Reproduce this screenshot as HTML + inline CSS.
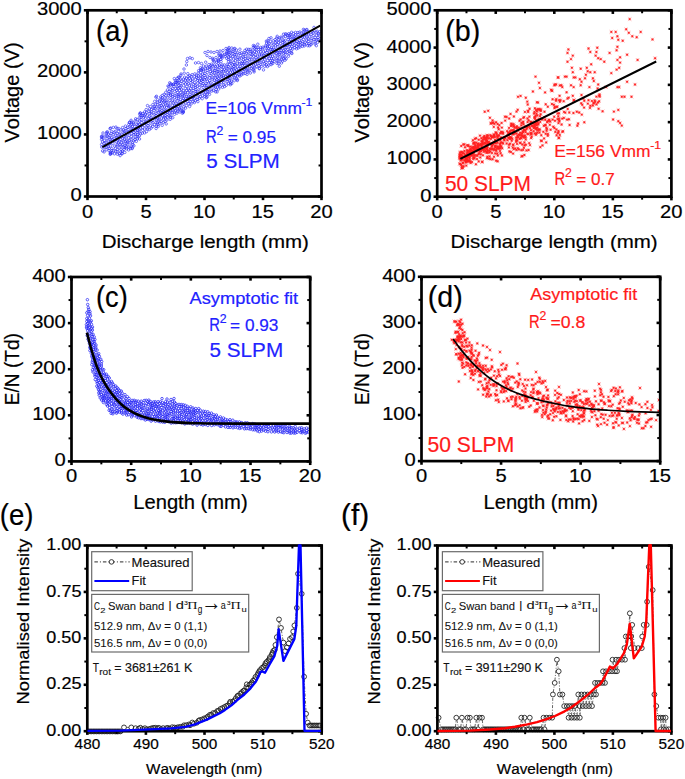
<!DOCTYPE html><html><head><meta charset="utf-8"><style>html,body{margin:0;padding:0;background:#fff;width:685px;height:779px;overflow:hidden}svg{display:block}text{font-kerning:none;white-space:pre;stroke-width:0.2px}</style></head><body><svg width="685" height="779" viewBox="0 0 685 779"><defs><marker id="mA" markerUnits="userSpaceOnUse" markerWidth="8" markerHeight="8" refX="0" refY="0" overflow="visible" viewBox="-4 -4 8 8"><circle r="1.25" fill="none" stroke="#2727f4" stroke-width="0.62"/></marker><marker id="mB" markerUnits="userSpaceOnUse" markerWidth="8" markerHeight="8" refX="0" refY="0" overflow="visible" viewBox="-4 -4 8 8"><circle r="1.65" fill="#ff2020" fill-opacity="0.22"/><path d="M-1.8 -1.8L1.8 1.8M-1.8 1.8L1.8 -1.8" stroke="#ff2020" stroke-width="0.6" stroke-opacity="0.5"/><circle r="0.95" fill="#ff2020"/></marker><marker id="mC" markerUnits="userSpaceOnUse" markerWidth="8" markerHeight="8" refX="0" refY="0" overflow="visible" viewBox="-4 -4 8 8"><circle r="1.25" fill="none" stroke="#2727f4" stroke-width="0.75"/></marker><marker id="mD" markerUnits="userSpaceOnUse" markerWidth="8" markerHeight="8" refX="0" refY="0" overflow="visible" viewBox="-4 -4 8 8"><circle r="1.65" fill="#ff2020" fill-opacity="0.22"/><path d="M-1.8 -1.8L1.8 1.8M-1.8 1.8L1.8 -1.8" stroke="#ff2020" stroke-width="0.6" stroke-opacity="0.5"/><circle r="0.95" fill="#ff2020"/></marker></defs><rect width="100%" height="100%" fill="#fff"/><path d="M219.3 75.9 228.2 79.6 170.3 102.9 154.7 101.4 261.7 66.2 231.0 63.1 182.8 100.4 187.9 80.0 107.0 138.3 203.9 90.4 283.9 50.7 137.8 125.7 158.6 115.9 140.5 128.2 260.7 51.8 133.9 132.4 178.4 98.3 282.8 56.9 130.1 142.9 172.7 94.4 200.3 96.5 286.0 47.8 189.3 90.7 214.7 72.7 223.3 85.0 115.7 151.4 281.5 63.0 117.2 145.9 120.2 136.3 200.7 72.4 217.2 60.2 306.7 43.7 187.6 92.6 205.8 92.9 111.3 133.4 124.3 133.5 263.4 61.9 261.6 55.5 209.6 77.9 249.6 66.6 286.0 45.4 183.5 79.1 180.7 83.5 205.0 73.4 245.3 67.7 192.2 95.4 189.6 85.5 293.4 33.5 202.2 98.7 243.3 68.3 175.6 82.4 281.6 59.5 298.1 34.7 159.0 119.1 308.6 34.0 196.0 91.4 234.7 71.3 273.3 40.8 225.9 76.5 135.0 139.5 308.9 43.7 157.4 104.4 250.3 53.7 188.2 98.4 169.9 100.6 102.5 141.9 183.0 93.0 273.7 58.3 283.5 53.5 215.3 78.1 238.9 68.6 199.8 84.8 212.2 77.2 267.6 50.2 280.1 48.5 212.7 70.1 241.3 74.9 276.9 63.3 230.6 55.8 131.1 146.1 224.8 73.7 280.0 52.4 112.2 139.9 257.5 63.4 159.9 109.7 226.8 68.9 118.6 142.9 124.9 145.2 116.4 137.3 240.2 66.2 267.7 56.2 163.4 119.0 219.6 57.4 239.2 74.7 297.0 41.4 135.4 134.2 124.0 149.3 170.4 108.2 239.5 61.7 147.3 115.2 151.0 121.9 149.4 129.5 130.0 126.1 179.2 109.0 167.5 89.9 114.3 132.4 103.9 147.7 152.7 126.4 144.5 116.0 209.0 92.0 183.9 82.3 213.6 90.4 181.5 89.1 194.3 98.8 211.5 64.2 166.9 102.7 250.9 56.7 268.9 43.3 243.0 56.9 128.6 149.9 259.4 60.5 280.8 40.9 137.9 136.7 133.1 129.1 226.4 67.0 174.8 105.3 233.1 68.9 194.4 102.6 227.2 64.2 145.6 123.0 157.5 123.0 120.8 129.9 141.0 117.2 189.9 94.5 274.2 49.9 301.1 38.6 157.6 99.8 285.3 36.3 259.4 54.9 122.9 144.8 133.2 138.1 113.9 140.8 206.3 66.1 298.2 37.7 316.4 32.6 141.0 125.4 142.3 133.2 183.2 104.0 199.6 94.4 255.2 54.8 265.6 50.6 187.0 82.3 295.6 34.9 250.0 64.3 215.9 84.1 168.7 110.6 145.4 118.2 185.8 102.9 302.3 46.4 227.1 81.8 234.6 77.6 211.2 85.6 179.7 104.3 169.0 115.8 247.9 55.0 123.2 141.9 200.6 78.4 259.1 58.4 218.6 78.3 128.5 132.5 278.0 50.6 235.1 56.9 172.2 112.5 180.8 92.4 255.1 61.2 239.9 53.4 241.7 52.7 126.0 128.6 195.6 93.7 221.1 61.6 172.6 88.5 244.7 61.8 252.0 51.1 163.5 112.2 175.6 84.4 279.4 37.9 166.9 101.0 225.6 79.6 126.1 136.9 268.0 44.9 271.6 47.6 138.2 122.8 249.8 62.3 165.1 115.4 319.0 34.9 222.6 80.8 207.2 76.1 102.9 138.0 256.0 57.7 243.7 54.5 174.8 91.5 318.0 37.5 272.5 60.6 241.2 72.9 136.0 136.8 291.4 52.7 316.6 35.2 141.0 115.4 191.1 99.3 186.4 78.3 153.0 108.0 250.0 70.2 150.5 106.6 216.1 89.5 139.1 132.0 291.7 36.4 281.1 46.1 284.3 41.7 198.6 75.8 203.1 87.5 197.7 91.2 118.5 131.4 292.8 48.9 213.8 82.5 229.7 75.7 218.3 81.0 165.6 117.9 290.7 39.6 229.2 70.0 283.9 45.5 305.2 42.3 304.0 34.5 156.0 122.4 247.3 51.4 294.2 45.2 215.3 66.7 228.2 59.4 155.5 104.5 303.8 32.0 250.4 49.5 265.4 47.0 176.2 103.7 237.6 66.8 242.3 65.2 221.3 82.5 263.5 51.9 172.1 84.8 266.4 65.0 217.6 66.2 190.1 101.7 174.2 101.1 317.9 39.6 143.9 121.3 134.7 126.5 106.0 142.1 204.7 79.7 154.1 110.5 132.6 142.6 150.0 113.3 142.7 130.3 221.2 66.6 287.6 43.4 268.4 48.6 215.4 87.0 182.2 96.9 283.6 58.3 246.7 53.1 105.1 136.0 269.4 58.5 290.0 44.3 146.5 112.4 299.4 40.9 237.9 57.3 177.0 113.1 137.3 132.6 296.1 37.9 112.9 143.3 226.6 53.0 244.0 52.9 190.9 82.7 144.5 125.2 260.8 64.3 318.5 33.5 175.0 95.2 143.6 117.5 247.0 63.0 215.9 75.2 271.9 43.9 248.1 58.3 183.5 85.6 233.8 66.4 262.8 47.2 124.9 131.0 219.9 72.0 111.8 137.8 276.4 58.8 264.0 55.3 196.5 77.2 276.3 53.2 304.8 37.2 170.9 93.1 194.8 73.9 178.5 96.1 186.5 105.6 219.6 65.0 256.5 52.4 236.4 69.8 159.3 106.3 208.9 64.6 133.8 124.2 260.9 62.1 244.8 65.3 195.3 100.8 274.1 61.5 264.6 59.4 221.8 69.4 222.8 56.1 214.9 70.5 244.9 50.4 267.7 60.4 201.1 92.6 277.3 44.7 207.3 72.5 230.5 58.4 197.7 83.1 127.5 141.9 174.5 114.3 172.7 109.9 221.9 78.3 212.9 66.2 218.1 71.4 199.5 81.1 226.6 58.3 287.3 52.4 104.6 140.4 262.6 59.0 290.6 48.2 163.3 122.3 219.1 84.9 105.2 145.2 213.6 85.1 146.2 109.6 304.2 44.5 230.0 67.9 236.5 54.7 194.6 76.6 129.2 135.2 226.1 70.8 199.3 87.4 278.9 60.9 210.4 71.7 172.5 105.4 209.7 80.7 174.6 97.5 293.9 38.1 150.9 117.4 173.3 102.9 128.1 129.4 279.8 59.0 282.9 42.5 131.3 136.4 191.5 86.1 263.7 57.3 148.2 123.4 144.6 129.1 178.8 82.6 225.2 56.3 245.3 58.5 225.1 54.2 259.3 68.2 166.9 120.0 146.9 127.1 158.4 112.4 139.7 121.0 106.7 133.6 168.5 95.2 130.9 139.7 275.7 42.4 311.9 43.1 170.9 115.2 110.7 145.9 167.8 97.9 311.4 40.6 114.4 153.8 277.7 46.8 194.7 82.7 180.7 79.0 315.1 41.9 230.7 83.0 141.2 119.8 168.9 106.7 202.7 95.7 287.5 45.1 120.8 152.0 246.2 70.2 185.8 98.6 122.8 138.6 223.3 75.8 313.2 35.4 272.1 49.5 287.9 49.4 168.9 105.4 282.9 40.2 161.1 121.5 125.9 135.0 153.4 117.9 303.4 39.4 258.0 47.4 170.9 89.4 156.1 115.7 240.5 55.5 275.4 45.7 146.6 131.6 226.3 85.2 208.8 83.0 204.7 96.4 177.7 92.3 189.4 78.2 109.1 148.5 183.4 110.3 186.8 86.5 106.9 136.0 117.6 137.5 264.4 63.5 113.1 134.7 162.3 95.4 114.7 146.1 221.9 74.0 256.7 66.7 228.6 61.4 214.1 61.9 222.1 64.9 223.5 71.0 223.7 82.5 289.9 35.8 120.9 139.4 191.1 104.0 202.9 81.4 141.8 122.7 164.9 97.9 152.9 104.5 162.3 107.1 206.2 89.4 161.0 99.0 296.6 46.3 171.0 97.5 111.8 148.7 209.6 67.0 269.7 52.4 254.6 48.7 278.4 42.7 245.1 73.5 233.9 62.5 184.8 100.3 294.3 41.9 193.4 88.4 209.8 86.4 190.9 92.0 294.1 36.3 309.7 36.9 197.2 86.4 184.2 95.8 175.6 110.9 237.5 76.1 195.2 85.5 305.8 33.0 185.4 92.4 180.0 101.8 248.8 49.4 260.7 47.4 163.9 101.8 210.0 75.4 220.1 86.8 117.5 149.7 128.9 147.1 178.1 106.5 278.7 63.4 268.8 65.2 231.5 81.0 266.0 62.5 300.2 42.4 317.1 31.2 315.1 44.0 204.0 75.6 176.7 98.4 317.6 42.4 258.6 49.3 296.5 48.8 152.8 120.2 174.7 108.3 108.4 134.1 243.5 59.8 148.5 120.7 221.2 76.1 132.3 126.5 108.2 144.2 111.6 131.5 193.0 101.5 168.9 91.6 218.3 63.3 247.5 67.6 179.9 112.0 212.2 79.1 195.6 79.4 155.8 113.5 277.4 57.2 253.2 69.3 185.4 80.0 162.7 100.3 203.4 69.5 288.9 53.7 164.1 94.4 101.6 144.5 315.1 37.5 262.6 48.9 278.8 39.7 300.0 47.0 131.8 133.7 267.4 47.0 167.7 112.2 229.2 64.5 108.2 141.2 300.3 35.8 235.0 52.2 270.4 56.1 214.4 80.0 275.1 39.6 121.0 134.1 211.2 89.2 236.7 73.7 188.6 96.1 178.2 88.4 227.7 75.3 253.7 56.2 243.2 71.8 111.9 150.6 252.8 67.0 158.9 121.0 152.9 122.7 148.5 118.3 230.9 61.4 280.4 43.6 229.8 78.1 232.9 77.8 227.4 72.3 291.8 46.7 253.3 47.3 285.2 54.2 189.6 106.5 117.3 133.5 157.5 102.1 242.0 63.5 232.5 64.9 178.9 94.3 252.5 63.0 229.2 54.6 162.3 97.8 181.2 108.0 135.7 128.9 197.5 97.5 157.2 110.9 117.7 140.0 192.3 81.2 299.9 32.0 123.4 130.0 311.1 34.6 190.8 88.4 189.8 75.7 123.1 132.2 160.2 103.6 306.5 34.7 162.6 115.7 150.6 125.7 116.2 141.8 282.5 61.1 126.7 140.5 279.3 54.2 286.2 58.8 253.1 53.1 235.6 65.1 313.3 32.9 172.7 117.7 237.2 59.3 208.0 89.7 301.8 33.0 133.6 141.1 185.5 83.9 232.9 51.7 151.5 111.9 308.5 31.7 139.6 129.8 110.4 143.2 203.1 83.7 139.5 117.5 271.1 64.6 283.1 37.1 289.1 51.0 161.9 110.4 217.4 87.1 183.3 90.8 247.1 60.3 207.1 94.3 117.3 151.6 179.0 80.2 137.2 119.6 160.3 115.0 251.8 59.5 216.6 62.2 203.6 71.1 187.9 101.4 177.3 86.9 149.4 108.9 127.5 144.4 110.0 139.2 113.7 150.7 236.4 78.7 156.4 119.7 177.2 101.0 206.6 79.0 232.8 56.4 232.9 53.7 185.3 88.4 270.4 41.4 165.2 103.8 269.5 62.5 126.4 148.8 228.9 50.6 198.2 73.1 264.7 66.3 230.4 72.3 308.3 39.0 120.1 144.5 214.6 65.1 109.9 135.8 166.6 107.3 224.2 64.9 302.3 36.9 232.1 67.7 298.7 42.8 206.7 85.7 247.4 65.6 218.1 69.2 253.7 65.1 117.3 144.5 168.8 93.5 285.0 52.2 191.4 76.6 294.7 47.5 285.2 49.3 272.4 56.3 202.9 79.2 240.9 68.8 175.7 88.6 142.7 127.4 148.9 111.3 192.1 74.7 269.4 46.5 135.0 121.0 247.6 71.8 273.5 47.8 142.9 113.7 183.8 106.8 169.8 112.7 237.4 63.4 106.1 147.2 165.8 92.3 288.2 39.4 188.1 76.6 218.6 89.1 184.6 77.2 168.9 86.7 288.5 56.2 257.7 56.1 165.9 110.3 161.8 113.6 215.4 68.8 135.6 130.8 266.6 57.7 109.0 150.7 285.0 60.2 128.6 137.8 127.8 127.5 266.8 52.5 308.4 41.3 188.5 89.1 178.8 85.7 271.0 53.9 207.4 81.3 137.9 130.3 154.2 114.2 154.2 106.9 182.3 95.0 144.6 132.9 173.8 86.4 285.3 40.3 209.8 69.2 147.7 128.9 302.7 41.8 185.6 108.1 239.7 71.1 156.3 126.2 277.0 60.7 235.7 75.8 319.8 31.7 179.7 90.3 193.8 96.7 207.3 70.3 151.4 109.6 120.9 146.0 190.5 80.2 193.2 90.5 123.8 136.6 311.9 38.8 233.6 59.1 161.4 118.2 252.1 54.8 203.2 91.8 139.5 135.8 258.5 51.9 131.9 124.1 287.6 35.4 205.4 68.6 193.8 84.4 231.6 69.8 159.0 108.0 242.6 61.8 199.3 98.2 131.1 127.9 136.9 124.3 188.8 103.7 151.7 114.0 200.2 90.2 237.7 71.5 177.3 109.0 211.2 73.5 274.0 52.4 197.3 99.4 241.3 58.1 154.4 124.7 178.1 104.1 302.6 35.1 255.6 64.1 211.8 91.1 172.1 90.6 254.2 59.3 274.8 55.2 163.5 104.8 243.1 73.8 213.9 75.5 268.7 54.1 165.8 95.6 291.2 42.5 122.6 127.6 125.4 126.1 296.0 43.2 195.9 89.6 183.3 98.4 177.0 80.8 313.9 39.4 201.5 80.0 202.3 85.5 115.4 148.2 172.6 96.7 260.8 49.3 205.8 83.4 172.9 107.7 200.7 75.8 119.1 147.9 126.5 147.0 232.8 74.8 192.6 97.4 130.5 131.0 232.6 72.1 147.8 125.5 196.7 75.4 276.8 38.0 165.0 121.4 193.1 93.1 300.2 45.1 180.3 105.5 185.1 94.1 218.2 74.0 172.4 100.3 251.5 68.3 264.9 53.5 220.0 80.0 272.7 63.5 124.6 139.1 306.7 40.1 207.7 91.4 257.6 61.7 205.0 85.2 311.9 31.5 255.8 47.2 289.7 41.3 146.0 121.3 149.4 116.6 101.8 147.0 229.0 73.9 126.8 132.3 144.6 111.9 276.5 49.4 170.2 119.3 160.1 112.0 270.5 60.6 239.4 63.9 142.9 115.5 161.6 102.0 133.8 134.6 239.1 59.0 181.0 85.9 282.3 48.0 180.0 95.8 306.7 36.9 245.4 56.6 291.1 50.8 188.3 83.8 273.9 44.3 123.2 147.1 320.0 38.7 220.8 59.3 288.0 37.3 304.3 45.9 257.7 59.4 281.0 56.0 222.5 87.3 235.5 60.7 181.7 81.2 230.1 52.9 114.1 138.2 314.0 30.7 213.8 86.9 155.1 108.6 180.8 109.9 197.9 101.6 201.4 70.0 250.6 51.7 218.0 84.6 192.6 79.0 205.4 77.5 130.4 148.5 151.1 128.1 186.7 90.4 228.0 66.5 255.0 67.9 101.6 139.4 170.7 117.2 156.1 107.0 164.1 109.9 202.7 74.1 121.1 149.7 293.2 39.7 137.5 134.7 222.1 58.0 197.7 80.3 271.8 51.3 281.3 50.5 204.7 94.3 277.8 52.3 243.6 63.6 302.3 43.5 228.8 57.1 295.5 32.4 197.2 94.2 115.8 135.2 234.2 80.8 140.4 133.8 170.5 94.9 271.5 58.6 115.2 131.4 167.3 105.3 106.2 149.8 297.9 32.5 289.2 46.1 261.3 54.4 207.3 68.1 125.3 141.4 294.6 40.0 160.7 97.0 187.0 96.7 234.9 54.7 316.3 39.9 227.9 77.0 138.2 127.9 237.9 52.8 216.6 82.0 210.8 67.9 228.6 83.4 223.6 77.3 285.1 57.2 145.4 114.0 119.2 141.1 224.2 69.4 157.4 118.2 278.0 55.1 210.7 82.8 173.6 84.0 112.1 152.9 176.7 90.3 159.8 123.2 174.3 112.1 180.4 99.7 132.9 144.6 275.6 51.3 227.0 55.1 229.7 80.3 167.1 114.4 206.8 87.5 234.3 73.2 177.0 94.9 200.8 82.5 180.2 87.7 210.9 65.7 108.2 147.0 255.9 49.6 227.0 51.4 239.8 76.1 175.9 106.5 150.5 119.7 290.2 34.3 223.3 67.1 129.4 140.3 167.6 117.2 128.8 124.4 224.6 86.6 244.1 69.6 270.6 49.6 195.5 87.4 292.6 44.0 259.0 65.7 121.7 142.5 281.0 37.1 159.9 101.1 216.9 71.9 161.1 105.6 132.1 130.9 190.8 97.2 249.7 59.5 125.1 147.3 155.4 117.8 247.8 70.3 164.4 107.0 234.5 64.5 177.8 111.2 217.0 79.8 133.3 122.9 109.2 137.6 198.1 78.5 165.6 112.9 271.7 62.8 311.1 44.6 221.8 71.8 298.2 44.7 170.7 110.9 137.3 138.8 298.2 48.0 219.1 67.3 265.5 45.7 158.0 124.7 119.2 134.3 217.3 77.2 139.5 124.4 202.2 76.9 235.2 68.3 307.8 45.7 284.4 44.1 282.0 52.1 164.8 100.5 110.5 141.6 254.6 51.6 221.0 55.7 126.6 143.4 290.2 37.5 122.4 151.0 104.1 143.3 212.7 72.2 209.5 94.4 177.6 83.4 219.0 83.0 276.7 41.3 164.3 117.0 218.5 61.0 178.5 77.0 181.0 74.0 184.0 69.0 186.4 65.0 186.8 61.5 187.5 58.5 190.0 57.8 192.3 58.6 195.5 63.0 198.5 62.6 201.5 63.5 203.5 66.0 202.0 68.5 200.5 70.0 168.0 86.0 170.5 85.0 173.5 84.5 176.5 82.5 205.0 52.5 208.0 51.5 211.0 52.0 214.0 52.5 217.0 51.5 220.0 51.0 223.0 50.5 226.0 48.5 229.0 47.5 207.0 55.5 210.0 57.5 213.0 59.5 216.0 57.5 219.0 55.0 218.5 60.0 221.0 56.5 228.0 53.0 231.0 51.0 234.0 49.0 183.3 112.0 266.6 43.1 118.7 128.6 131.1 120.3 129.5 122.3 122.1 153.8 230.3 84.7 120.1 155.6 246.7 49.2 213.3 60.4 102.0 136.1 228.6 48.8 234.8 48.4 139.5 139.0 101.7 137.5 177.2 78.3 253.4 45.5 110.3 153.8 263.5 69.9 291.6 32.3 174.3 78.6 309.6 45.8 101.6 136.6 180.9 75.4 277.2 36.3 117.4 154.2 266.4 41.1 107.5 131.9 103.0 133.0 182.4 113.2 124.8 152.4 156.5 96.3 306.2 30.0 140.1 113.1 316.3 45.7 314.0 27.4 115.9 127.1 222.4 53.9 236.4 50.0 169.7 82.8 131.3 122.1 247.1 74.3 110.0 128.6 106.7 132.2 237.3 80.5 217.1 91.9 206.2 97.7 306.9 29.5 136.3 141.3 268.9 38.5 207.0 97.0 102.6 150.9 183.2 112.3 132.3 147.8 239.9 49.2 122.1 153.3 117.2 128.7 179.3 77.4 271.0 37.8 135.7 118.8 147.5 105.6 158.3 126.4 110.7 128.0 253.9 70.6 279.3 66.2 286.5 34.3 166.2 123.9 156.1 128.5 267.8 40.9 110.8 153.3 291.9 53.5 288.8 33.7 175.3 80.8 162.2 125.3 303.4 29.4 231.8 83.6 155.9 97.1 254.1 71.9 119.3 153.8 140.5 113.1 184.2 73.2 129.5 122.6 231.8 48.0 182.7 111.3 110.3 154.3 283.5 34.2 170.6 83.7 304.3 30.1 187.8 73.7 267.4 66.6 110.5 152.4 259.4 68.7 198.7 70.6 237.4 79.6 219.1 53.8 205.7 62.2 285.4 33.8 257.8 44.2 250.3 73.0 254.6 46.0 113.3 127.4 227.4 49.9 215.6 91.8 133.9 145.8 132.1 148.6 104.1 151.9 139.7 114.4 212.7 58.3 200.5 67.7" fill="none" stroke="none" marker-start="url(#mA)" marker-mid="url(#mA)" marker-end="url(#mA)"/><line x1="102.4" y1="147.2" x2="320.2" y2="25.6" stroke="#000" stroke-width="2.0"/><path d="M470.1 152.5 471.4 154.1 473.5 149.0 468.1 156.1 464.5 150.9 468.3 145.3 471.4 155.6 469.0 161.0 468.5 154.5 467.6 157.1 473.3 143.4 469.6 152.7 461.1 164.8 463.6 166.2 467.3 153.7 472.9 140.2 472.5 147.9 470.3 149.4 464.4 144.4 472.9 154.9 471.4 151.0 460.6 156.2 465.7 161.6 467.4 152.5 470.8 149.3 471.4 151.7 465.8 158.5 472.3 152.0 470.8 153.4 473.9 147.2 473.5 147.2 470.2 161.7 470.3 155.1 469.2 155.0 470.1 146.7 467.5 161.6 460.5 156.0 460.2 154.9 471.6 152.6 462.9 153.2 461.6 152.0 465.0 147.3 467.5 160.4 466.9 158.4 468.5 156.9 467.2 145.3 471.5 154.0 472.0 162.0 471.9 147.1 467.0 161.2 471.4 152.7 468.2 160.7 460.7 156.4 462.5 156.6 473.6 153.1 459.8 155.5 473.3 152.5 459.9 157.0 461.5 155.0 460.3 164.0 467.7 151.1 460.9 157.5 461.7 168.2 464.7 157.6 462.4 167.8 464.0 156.6 470.3 149.7 463.0 162.6 471.5 151.3 466.0 160.3 459.6 163.7 462.5 159.5 472.2 153.5 467.7 155.1 473.9 149.0 468.7 150.9 465.9 155.2 459.8 158.6 461.8 166.1 470.2 151.2 473.2 158.8 460.3 155.4 462.0 159.4 465.0 155.1 462.9 163.0 467.8 151.1 461.0 156.7 468.2 152.1 469.6 157.2 469.5 158.3 468.1 146.1 464.4 160.3 474.0 142.6 460.0 153.1 463.3 144.4 466.3 165.6 460.2 152.1 461.2 146.0 460.8 155.8 471.9 151.5 462.7 167.7 466.0 157.9 473.2 157.1 460.9 157.6 472.0 151.5 469.0 155.4 460.6 160.4 459.8 157.7 467.1 150.3 462.5 152.2 469.7 160.2 462.2 157.0 460.2 157.7 464.4 153.5 470.6 162.9 465.9 162.6 460.8 157.9 461.4 156.2 466.8 156.5 466.6 159.7 488.5 142.0 477.5 149.1 482.1 149.5 487.0 149.0 486.0 148.7 474.1 150.9 480.3 157.4 477.9 146.7 486.6 141.6 474.8 155.2 474.8 150.4 486.9 136.9 482.5 144.3 486.5 141.1 489.8 148.7 475.9 147.6 478.1 143.5 488.1 143.2 487.1 147.3 483.0 155.3 487.3 152.2 477.2 155.7 475.0 138.8 476.1 149.5 481.5 141.1 474.1 157.9 489.2 143.4 481.3 145.1 487.1 146.2 486.8 144.8 474.6 147.5 481.5 149.5 478.7 139.8 480.0 135.6 487.5 150.2 485.5 143.2 474.3 143.0 481.1 151.2 480.2 144.3 478.7 161.4 487.7 143.2 479.5 148.5 479.0 153.6 477.7 150.3 485.7 146.7 475.8 150.5 489.2 152.5 475.2 145.2 477.8 146.0 482.7 141.1 475.9 164.3 475.5 150.9 485.3 139.3 487.1 158.2 483.8 150.0 482.2 142.0 476.5 150.5 477.0 159.0 487.2 140.9 487.2 144.6 483.4 137.1 477.7 144.3 484.3 136.0 485.6 150.9 487.3 156.7 486.4 152.2 478.7 154.0 475.6 146.0 486.6 139.6 482.6 143.3 486.3 145.6 480.9 144.2 478.1 148.0 484.5 142.6 487.0 152.7 474.4 143.6 489.0 138.3 485.2 147.0 487.1 135.3 484.8 137.4 479.1 150.0 480.9 154.3 483.0 139.5 487.7 142.9 474.5 149.4 486.4 138.1 476.1 138.2 489.1 158.6 474.4 158.3 477.8 149.8 484.1 138.9 474.6 155.7 478.7 145.3 482.4 144.5 487.9 135.5 484.2 148.7 476.1 142.7 489.1 150.6 481.7 146.8 486.3 148.1 479.5 151.7 488.8 142.1 484.0 151.8 482.2 161.8 480.2 150.8 482.3 161.9 487.5 137.7 485.8 139.5 477.0 148.0 484.1 143.7 482.6 147.7 481.4 138.2 489.6 156.4 479.8 145.4 477.1 155.2 507.1 131.1 511.7 140.7 508.9 147.4 494.3 142.2 494.0 134.4 492.6 122.9 493.4 142.6 511.2 123.6 502.2 148.2 498.8 148.6 511.8 124.2 500.1 143.4 493.0 137.1 495.0 140.0 498.1 127.5 501.2 132.0 499.1 135.5 499.8 148.4 507.4 140.2 490.5 159.1 492.2 149.0 492.0 153.0 513.6 134.1 498.7 129.2 499.3 125.1 508.9 132.9 504.3 140.3 513.6 130.3 508.0 132.9 501.9 155.5 511.0 152.0 495.3 146.3 498.6 138.9 495.5 146.0 497.2 153.5 513.2 144.8 500.6 153.3 494.8 137.0 513.9 116.5 510.5 113.9 501.6 122.9 493.8 126.9 503.0 133.7 491.1 123.6 494.0 148.9 501.3 146.6 494.8 143.1 507.3 135.6 495.2 142.7 511.4 137.4 509.1 144.7 509.3 138.0 508.8 134.9 493.9 149.9 495.6 132.5 501.8 132.1 491.7 137.2 513.1 153.6 500.0 151.0 511.1 126.0 512.8 147.5 492.3 145.7 498.1 135.8 513.2 144.8 513.5 126.2 497.4 136.0 509.4 151.5 497.6 124.0 501.9 132.8 497.7 146.5 505.0 116.7 494.4 123.7 496.3 150.7 491.0 138.9 509.9 132.5 509.0 127.9 493.0 144.3 501.0 142.5 497.3 136.2 497.9 147.9 491.0 149.0 494.2 135.2 495.4 147.5 495.2 153.4 510.2 137.3 509.9 132.9 500.7 146.3 513.6 130.4 501.9 127.6 513.6 124.2 511.4 130.4 504.1 139.2 506.6 143.5 513.7 149.1 510.8 137.8 490.4 151.5 491.5 143.2 491.4 144.2 492.6 159.2 495.4 140.2 508.2 137.8 497.5 142.7 512.9 130.4 497.8 155.5 499.2 147.0 497.7 161.3 496.4 132.7 505.3 138.1 494.0 136.4 502.7 142.7 495.9 149.9 499.9 148.0 500.2 133.2 500.9 137.4 514.5 127.7 512.7 134.3 496.8 134.1 503.1 143.6 500.1 145.0 496.1 160.7 491.6 146.7 497.0 148.6 500.4 140.4 495.9 143.1 490.9 136.0 511.6 125.4 514.0 126.1 494.0 156.8 510.1 138.9 492.6 143.9 492.3 136.4 510.1 130.9 495.3 146.4 490.4 135.2 493.1 122.6 496.8 141.3 512.3 138.8 514.1 133.6 510.0 143.7 505.0 137.5 503.0 132.4 502.9 137.8 497.5 137.9 505.2 120.6 509.2 118.5 527.5 133.7 533.0 123.2 538.4 124.0 525.3 126.7 531.5 133.4 518.9 149.4 531.1 133.2 532.5 125.8 534.9 108.3 537.3 121.5 539.4 109.1 530.7 121.8 523.2 121.6 521.3 125.4 519.7 138.9 540.0 116.1 516.3 127.4 534.1 113.6 518.8 127.7 529.2 143.1 533.9 128.1 522.1 133.4 522.4 156.0 538.0 124.5 522.9 122.8 524.5 145.3 534.7 117.3 524.0 130.2 537.3 115.5 535.7 124.3 536.1 127.9 516.6 139.4 523.6 136.5 530.0 145.1 536.0 123.9 536.9 102.3 529.6 108.7 520.4 143.0 536.4 133.5 534.6 133.5 527.6 122.1 516.5 149.9 531.1 138.1 524.9 135.5 516.2 137.5 535.5 116.0 522.3 144.5 525.5 132.1 515.2 148.5 520.7 137.9 536.9 111.3 535.8 128.7 515.3 132.8 516.5 111.6 523.5 124.3 517.1 128.3 522.7 136.2 523.2 132.0 534.4 111.9 536.9 129.9 523.9 136.8 526.9 127.5 537.7 122.2 538.1 109.6 523.4 117.8 529.4 116.6 524.4 155.0 517.7 109.8 522.8 131.5 521.0 138.2 528.1 134.1 517.1 140.6 520.1 132.8 528.6 150.0 519.7 135.0 523.9 147.8 538.7 119.2 531.6 136.7 531.0 130.2 523.1 149.9 519.5 120.8 535.5 122.4 528.1 110.8 521.6 156.4 518.7 134.6 538.0 102.5 516.2 141.7 530.0 128.2 520.2 142.8 525.9 144.8 520.6 119.4 534.6 117.5 527.7 104.5 527.6 126.9 517.9 148.2 536.5 120.1 532.2 123.0 536.0 110.0 520.7 128.5 531.1 122.5 516.5 133.5 524.4 142.4 534.4 125.2 535.9 134.8 537.8 109.2 517.7 130.5 530.5 133.1 525.7 137.3 536.6 125.1 529.3 126.3 524.9 111.9 534.2 127.6 526.5 150.4 526.7 129.0 517.0 143.9 521.4 123.0 518.0 137.1 534.9 124.5 531.4 122.2 535.0 118.9 521.8 133.5 533.7 131.1 539.5 132.5 524.1 117.1 534.8 126.5 523.8 137.6 517.6 135.8 527.5 118.4 538.5 129.9 528.1 111.9 521.2 135.1 531.0 134.5 539.2 129.4 525.7 139.4 536.5 113.7 537.4 132.4 521.3 150.1 516.9 126.3 528.5 120.3 539.8 129.6 533.5 126.4 516.3 140.6 525.4 130.2 527.3 101.6 535.4 122.7 523.9 129.5 537.4 127.8 531.4 125.9 518.0 137.4 521.5 135.9 559.3 121.3 555.0 120.8 542.4 119.6 541.0 140.7 557.7 133.1 549.0 119.7 557.3 106.7 540.8 110.8 552.6 119.6 559.1 137.8 540.3 147.1 546.6 130.7 551.9 104.0 558.6 138.0 546.4 127.9 546.2 142.4 547.8 135.7 540.2 110.2 540.7 109.5 557.5 113.4 558.5 131.0 559.8 101.8 540.6 114.2 550.6 129.7 555.3 131.9 558.3 116.3 545.2 119.7 553.3 126.7 556.6 135.3 554.4 128.0 549.2 120.5 554.8 106.9 551.1 89.8 556.2 99.2 547.8 121.2 541.3 135.3 542.5 145.4 559.8 134.9 541.8 118.7 546.9 128.9 547.9 134.0 547.8 106.7 545.5 125.3 554.2 116.7 556.4 106.9 559.0 113.3 550.2 121.5 544.1 138.4 549.8 124.8 559.1 100.1 543.3 131.8 544.5 111.7 559.8 85.4 547.1 122.0 545.4 125.0 559.0 118.8 558.5 123.1 557.6 119.1 559.0 120.1 544.4 117.3 543.8 125.7 545.7 133.8 558.5 132.6 541.8 140.9 556.0 100.8 556.4 129.4 540.2 121.9 554.5 108.1 553.9 104.8 545.7 104.3 598.6 108.8 590.4 105.8 591.9 100.9 583.4 98.6 581.2 103.3 584.1 107.6 568.7 97.6 573.4 113.0 567.7 108.9 577.4 125.7 578.1 123.5 573.7 100.4 584.3 122.3 587.8 103.6 597.6 88.4 563.7 101.2 581.8 114.6 569.3 112.5 595.1 101.9 599.7 96.5 563.0 131.3 594.8 100.5 564.0 111.9 562.2 118.6 590.0 107.9 569.6 125.0 576.8 111.7 593.8 103.2 599.2 95.8 596.5 104.4 582.3 104.8 599.5 94.5 597.9 102.5 593.5 102.9 561.6 124.5 584.3 100.8 565.3 112.6 563.9 117.9 579.2 112.5 562.4 131.7 596.4 96.6 574.1 100.0 568.9 119.3 599.1 101.2 567.0 119.6 629.7 19.1 611.3 31.9 615.7 31.9 612.2 38.0 617.4 36.3 618.3 39.8 622.7 40.7 626.2 29.3 628.8 32.8 632.3 36.3 636.7 37.2 640.7 31.9 652.5 39.4 568.4 49.4 567.5 52.9 572.8 55.6 571.0 59.1 567.5 61.7 588.5 48.5 590.3 52.0 597.3 47.7 596.4 52.0 595.6 55.6 598.2 58.2 600.8 59.1 604.3 61.7 609.6 52.9 617.4 46.8 616.6 50.3 627.1 54.7 620.1 57.3 617.4 59.9 620.1 62.6 619.2 67.8 616.6 69.6 637.6 59.9 655.1 58.2 571.9 67.8 572.8 72.2 580.7 68.7 586.8 67.8 587.7 71.3 585.9 74.8 591.2 64.3 594.7 72.2 590.3 72.2 557.9 77.4 564.9 76.6 566.6 76.6 573.7 77.4 575.4 77.4 579.8 79.2 585.0 78.3 581.5 81.8 592.9 78.3 593.8 81.0 611.3 73.1 554.4 85.3 556.1 84.5 561.4 85.3 562.3 87.1 571.0 85.3 573.7 87.1 580.7 85.3 589.4 87.1 598.2 84.5 619.2 87.1 627.1 81.8 635.0 84.5 606.1 87.1 551.8 90.6 552.6 99.3 559.6 95.8 560.5 100.2 566.6 92.3 567.5 98.5 572.8 95.8 581.5 95.0 588.5 100.2 592.9 105.5 602.6 111.3 617.4 87.1 621.8 96.7 624.5 96.7 631.5 96.7 613.9 111.6 618.3 109.9 613.1 119.5 618.3 121.2 620.1 123.0 621.8 125.6 484.7 111.7 488.2 110.8 489.9 117.8 492.6 120.4 496.1 122.2 490.8 123.1 506.6 116.9 518.0 96.8 520.6 95.9 525.8 97.7 532.9 91.5 535.5 76.6 539.0 82.8 539.9 88.0 545.1 92.4 552.1 90.7 554.8 84.5 558.3 77.5" fill="none" stroke="none" marker-start="url(#mB)" marker-mid="url(#mB)" marker-end="url(#mB)"/><line x1="460.3" y1="158.9" x2="656.2" y2="61.5" stroke="#000" stroke-width="2.0"/><path d="M152.3 405.5 165.5 404.1 215.3 416.6 198.6 418.8 205.8 415.9 93.7 345.1 149.1 415.3 89.9 333.3 242.3 424.0 210.7 422.2 133.2 413.8 162.7 422.1 89.4 318.3 146.0 410.0 235.2 421.8 106.3 376.3 95.3 357.4 149.3 408.2 109.0 388.8 198.7 416.0 219.3 423.4 294.6 429.2 105.1 378.3 141.0 416.9 233.4 424.2 99.5 373.7 91.6 328.3 123.8 403.7 96.1 372.7 171.2 411.6 87.6 323.4 152.7 419.9 173.6 420.2 175.8 403.6 90.5 315.9 271.4 431.9 107.6 391.2 282.1 426.7 174.7 406.8 113.9 404.2 97.1 350.0 177.6 411.2 212.4 418.9 171.4 406.9 167.5 406.0 98.1 378.4 108.3 398.2 255.4 427.8 257.1 425.3 205.2 424.5 246.7 426.2 201.2 422.0 101.2 378.5 101.3 364.0 235.5 425.0 143.8 412.8 194.3 423.2 95.6 349.0 96.8 386.2 249.7 425.3 202.9 425.0 147.7 401.6 88.8 309.4 169.2 418.9 194.8 417.4 250.1 429.1 276.2 426.9 117.4 408.4 143.9 408.0 287.0 432.5 102.3 369.1 89.5 325.2 228.0 423.7 209.2 413.6 131.8 402.9 299.3 428.1 214.3 424.9 192.3 421.7 167.5 419.1 139.3 411.1 125.7 407.4 130.6 410.3 188.8 414.7 160.3 409.2 220.4 416.9 103.3 387.2 209.0 415.4 145.3 420.0 153.4 410.3 225.6 419.4 143.3 402.8 98.6 385.2 273.3 429.8 95.4 365.5 147.2 408.3 90.5 340.0 107.9 394.1 284.1 426.8 87.5 333.9 111.5 381.4 94.8 369.0 283.8 432.7 158.4 406.6 260.5 427.9 223.9 423.0 106.1 393.9 137.0 417.1 121.5 412.9 117.3 400.2 201.2 418.5 280.6 431.6 157.8 404.8 266.2 426.5 148.1 411.6 226.3 424.3 207.8 411.8 263.6 426.9 99.0 361.2 230.0 419.7 114.2 409.1 98.3 375.8 120.3 396.6 141.0 412.7 143.6 405.3 98.0 355.0 117.2 387.8 116.9 410.3 191.1 411.3 131.2 405.2 230.6 421.7 93.0 372.0 164.2 418.2 92.7 342.6 136.0 410.3 244.4 428.8 209.3 418.0 99.2 395.2 128.6 406.5 99.5 386.6 304.1 428.9 107.6 379.0 305.3 433.2 112.1 406.4 139.4 414.6 192.6 418.4 109.5 404.8 88.0 319.9 189.7 408.7 112.9 411.9 206.9 419.5 146.8 403.7 187.6 410.5 92.6 360.2 179.7 406.5 153.3 407.7 89.4 327.2 90.0 311.7 91.5 324.3 119.4 412.1 117.5 397.4 146.9 419.3 98.9 364.2 186.6 414.8 207.1 422.7 107.2 401.9 308.5 432.0 243.7 426.5 129.4 404.2 124.7 400.9 115.3 388.8 126.5 412.5 157.9 407.9 213.4 421.3 96.1 369.9 106.4 404.3 100.7 380.6 194.0 412.7 211.4 413.1 93.6 349.5 172.7 401.4 131.6 416.9 157.7 412.9 111.1 391.7 237.7 427.8 140.1 403.0 92.7 354.6 221.3 423.9 90.5 321.8 297.2 429.2 308.9 429.3 261.6 429.0 101.7 376.7 99.0 366.2 185.0 410.2 134.2 400.3 250.7 427.4 299.5 430.6 159.4 413.7 137.4 408.8 135.5 406.8 114.8 391.6 126.1 398.8 259.7 424.9 91.6 334.6 184.8 423.9 165.2 415.1 111.8 409.3 178.1 420.1 239.4 421.9 272.3 428.1 142.6 410.5 267.4 425.0 114.4 405.5 207.8 425.4 113.8 386.5 129.7 412.5 194.8 415.4 100.5 392.6 135.7 402.6 151.1 418.4 180.9 412.4 111.2 393.9 117.3 412.1 88.3 307.6 297.1 432.3 140.9 406.1 183.7 407.0 223.4 418.0 261.6 431.1 263.9 430.0 173.8 418.6 155.4 408.7 133.9 405.9 184.7 413.7 235.2 427.2 103.0 390.6 95.8 347.1 103.4 372.3 99.2 382.7 267.9 431.7 158.1 401.7 129.6 401.0 155.1 406.0 122.2 393.2 107.0 398.9 119.7 390.7 156.9 416.8 105.3 388.4 293.4 431.0 106.8 382.4 90.4 348.2 187.3 423.1 217.5 417.2 121.8 406.3 302.2 432.8 213.9 414.8 195.5 422.0 150.8 404.0 115.6 394.2 111.5 403.8 159.6 416.7 179.5 416.1 172.3 418.8 185.8 408.3 155.8 415.1 151.8 411.6 160.7 411.2 104.9 391.1 121.6 400.9 89.5 343.5 144.6 415.3 98.6 368.3 133.4 410.8 225.5 426.9 101.4 386.7 94.3 364.0 119.4 402.2 98.7 353.6 193.9 409.6 126.3 401.0 216.1 421.9 270.8 425.4 185.5 412.3 256.4 429.2 127.3 396.7 151.5 409.4 155.5 421.2 133.8 402.1 223.7 420.8 198.7 408.6 155.9 403.3 165.6 411.3 103.6 393.8 304.1 431.1 95.9 360.7 125.2 413.0 158.5 421.3 125.0 394.7 284.6 430.3 164.8 422.3 104.1 384.1 87.7 330.7 93.1 339.6 240.4 425.5 152.5 416.4 142.8 415.2 191.4 414.1 119.3 409.7 223.4 425.2 129.4 407.8 181.1 419.1 217.2 424.6 99.6 391.2 259.3 431.7 215.5 419.6 162.6 416.5 188.8 420.8 287.3 428.1 148.2 404.5 258.6 426.4 132.0 406.9 205.7 420.3 126.0 411.0 104.0 397.1 238.0 425.2 144.1 417.5 100.2 397.9 209.3 423.5 273.5 425.8 97.5 364.0 132.1 409.1 190.9 419.7 186.7 419.3 98.5 389.8 203.3 411.2 93.1 334.3 160.9 405.4 189.3 417.9 166.6 408.2 282.7 429.0 156.5 411.2 100.8 359.2 120.8 399.5 190.7 406.8 274.7 432.0 201.5 416.3 230.8 423.2 213.1 423.0 278.3 430.4 103.3 381.0 150.6 401.6 171.4 413.6 182.9 410.2 216.4 415.0 170.4 405.8 106.7 396.9 117.4 404.8 89.2 336.7 90.4 345.2 168.3 412.2 112.8 392.6 218.0 421.4 89.0 341.4 97.5 372.1 157.4 418.6 168.8 421.6 137.3 406.1 153.5 414.3 268.2 429.5 306.7 430.7 220.3 422.1 227.4 420.0 125.6 404.2 178.4 408.6 195.8 408.5 181.6 422.8 180.5 420.7 154.6 416.4 248.3 428.6 103.4 400.7 285.5 429.4 152.4 403.5 175.1 413.8 232.8 420.2 183.7 417.4 102.0 396.9 196.4 420.5 210.5 415.4 189.5 423.1 114.8 411.8 233.0 427.8 177.7 416.4 170.0 402.3 86.8 312.8 137.0 412.6 213.1 416.7 254.9 424.1 139.6 407.9 101.0 383.8 118.2 392.2 111.0 396.8 175.3 419.8 229.7 425.6 200.4 413.7 94.9 376.1 103.8 375.2 200.3 410.2 128.7 414.7 205.3 411.5 148.9 419.5 108.1 376.4 167.0 410.0 91.7 350.7 99.9 375.7 172.1 416.6 173.4 410.8 95.2 379.6 202.7 420.1 91.8 364.6 112.9 413.8 96.3 374.6 247.4 422.8 103.4 402.5 181.2 404.5 204.2 422.8 184.2 419.2 170.2 409.2 94.0 341.5 194.1 420.0 98.8 358.7 92.3 357.6 219.9 426.0 175.7 417.0 90.1 330.0 116.8 390.4 112.7 390.1 91.3 353.3 175.6 410.5 195.2 411.0 95.8 352.6 187.3 406.3 289.3 428.1 97.2 383.1 98.1 360.2 111.1 413.3 113.7 398.3 105.2 395.8 116.2 392.6 109.5 407.6 109.8 382.9 182.0 414.3 177.4 413.2 301.7 429.4 225.9 422.2 170.2 421.1 222.3 419.9 254.4 429.8 116.5 395.9 219.8 418.7 146.8 414.0 177.0 422.6 288.1 430.9 164.3 408.9 139.1 405.8 86.8 321.4 95.9 367.3 276.4 429.1 179.2 418.5 110.8 385.9 109.8 399.3 111.2 388.2 236.9 421.9 295.3 426.6 92.0 346.8 149.3 417.0 108.8 385.0 167.6 402.1 165.6 401.7 117.9 401.9 169.1 413.9 176.3 407.8 187.6 408.3 191.8 415.9 293.1 427.8 86.5 327.1 144.2 400.5 264.2 424.9 135.9 414.2 105.5 384.2 211.7 425.5 107.5 406.0 195.4 413.6 162.7 410.8 94.2 336.9 291.2 430.2 118.3 388.9 105.4 380.6 128.2 410.6 90.3 338.2 270.2 428.7 231.7 425.4 185.7 421.4 129.1 398.5 278.8 427.3 145.4 405.6 137.6 403.8 175.6 422.7 252.6 423.6 101.6 400.1 147.1 415.7 202.3 413.0 172.3 404.0 244.9 424.9 134.0 408.9 90.0 313.9 122.4 408.6 118.9 404.1 214.2 418.3 112.3 383.0 205.1 413.4 95.7 358.8 104.4 386.5 102.0 382.4 167.5 421.3 189.3 411.1 93.4 367.5 163.1 405.4 241.1 427.8 93.7 356.5 145.9 412.0 117.7 394.5 138.2 401.1 179.7 410.5 291.3 433.1 300.6 432.4 121.4 410.9 101.3 394.4 161.5 407.5 107.1 388.1 169.0 415.7 124.2 397.1 206.9 417.4 198.5 422.8 142.1 408.3 92.5 369.8 126.3 409.0 200.8 424.4 169.3 408.4 100.3 369.8 116.3 406.5 162.4 402.5 252.6 426.7 183.2 404.8 135.5 412.5 295.3 433.1 282.2 432.3 109.2 381.6 115.1 402.3 86.8 318.5 91.3 331.6 165.4 417.1 279.9 425.9 154.7 411.7 119.3 393.7 119.0 398.3 179.0 404.4 101.4 366.0 143.2 418.6 92.4 330.1 280.9 427.8 278.4 432.1 92.2 362.0 160.5 401.8 159.6 418.8 289.5 426.5 162.6 414.3 198.9 412.1 230.1 427.4 158.9 410.7 107.1 386.0 141.2 401.2 113.3 402.0 168.1 404.5 109.2 396.3 87.6 315.4 274.8 427.7 115.4 397.7 266.2 428.4 160.3 421.8 211.0 419.9 177.1 405.1 259.0 429.1 94.8 355.0 173.8 408.3 153.5 401.9 120.8 408.5 151.9 407.1 241.7 422.6 192.6 424.2 140.9 409.5 196.9 412.5 126.7 415.1 98.4 369.7 122.9 414.1 115.9 400.3 209.4 420.1 196.7 418.1 154.2 418.7 91.0 343.2 268.4 426.4 88.0 339.2 121.5 395.4 93.9 351.7 97.0 381.4 165.1 407.0 109.1 410.3 109.3 378.0 127.4 404.7 278.5 425.5 103.7 369.7 181.6 416.3 141.0 418.6 132.0 414.9 215.5 423.5 122.0 404.5 150.6 413.8 173.6 422.7 188.0 412.8 109.8 401.6 88.6 328.9 265.5 431.2 295.2 430.7 91.8 344.5 111.3 400.4 172.4 409.5 289.6 431.2 135.5 404.6 182.9 421.0 156.5 406.6 203.7 418.2 100.6 389.6 132.1 400.4 99.4 356.3 252.7 429.7 106.3 374.2 112.8 394.8 138.6 417.8 109.0 392.7 127.8 402.5 114.4 396.2 199.6 421.0 94.7 343.1 123.2 407.1 276.0 425.2 257.0 427.2 150.9 406.0 200.1 417.3 115.7 386.0 94.9 374.4 306.6 432.6 173.3 412.8 203.5 415.2 197.1 425.1 161.0 419.4 154.6 404.3 134.6 415.6 121.7 397.6 177.4 418.2 228.0 427.4 155.3 401.7 261.9 425.6 167.0 416.1 185.2 405.3 186.7 416.8 146.5 416.9 104.3 398.9 101.7 361.5 276.1 430.9 97.9 387.8 179.1 422.5 228.5 421.4 97.0 377.4 197.4 422.1 217.3 419.0 151.1 421.1 235.6 423.0 206.7 415.0 123.9 410.7 193.0 408.0 174.1 416.3 113.4 384.6 250.4 424.3 165.8 419.1 159.6 403.2 105.7 400.9 107.9 403.5 306.6 428.0 138.0 415.4 101.2 372.3 121.3 391.1 167.1 414.4 89.8 347.3 183.7 411.7 171.2 423.1 94.3 361.4 106.7 391.9 302.0 431.4 103.1 398.8 103.0 379.6 181.5 408.5 131.6 412.9 94.3 366.0 164.6 412.8 96.0 345.0 174.4 404.9 91.3 320.7 255.0 425.9 222.0 421.2 245.2 422.8 136.1 401.0 185.2 416.3 285.9 426.5 88.1 311.3 98.6 380.4 120.9 402.9 179.8 413.6 101.4 374.3 100.6 367.8 111.7 398.6 120.0 406.8 125.3 402.9 130.4 402.6 163.5 420.5 92.5 327.0 257.2 430.9 87.2 335.6 193.6 414.5 88.9 322.0 141.3 404.0 86.4 324.7 188.7 419.7 190.2 421.7 98.8 392.9 301.5 427.7 108.4 400.7 289.9 433.1 104.5 374.0 148.9 413.2 161.1 415.3 86.9 328.5 94.1 358.6 190.5 412.7 123.4 405.4 92.1 336.5 174.4 402.0 103.3 395.4 93.8 347.7 246.2 428.6 239.9 423.9 91.8 356.1 110.7 410.8 89.9 350.6 190.9 417.8 197.6 410.3 94.9 339.5 293.8 433.0 95.6 363.1 149.8 409.8 239.6 428.4 181.5 406.6 148.8 400.1 221.1 426.4 116.5 413.2 146.2 400.3 158.1 415.3 88.2 325.7 97.2 357.3 164.1 403.6 159.8 412.2 97.2 366.5 249.2 423.9 291.1 427.6 193.4 411.1 149.3 402.6 87.4 299.7 87.7 304.5 174.0 398.5 171.0 399.5 167.0 399.0 162.0 398.6" fill="none" stroke="none" marker-start="url(#mC)" marker-mid="url(#mC)" marker-end="url(#mC)"/><path d="M86.90 332.70 C87.55 335.17 89.55 343.07 90.80 347.50 C92.05 351.93 93.20 355.63 94.40 359.30 C95.60 362.97 96.82 366.50 98.00 369.50 C99.18 372.50 100.50 375.22 101.50 377.30 C102.50 379.38 102.80 379.97 104.00 382.00 C105.20 384.03 106.72 386.70 108.70 389.50 C110.68 392.30 113.20 395.82 115.90 398.80 C118.60 401.78 121.90 405.07 124.90 407.40 C127.90 409.73 130.88 411.27 133.90 412.80 C136.92 414.33 140.00 415.53 143.00 416.60 C146.00 417.67 147.43 418.32 151.90 419.20 C156.37 420.08 162.02 421.22 169.80 421.90 C177.58 422.58 185.23 423.02 198.60 423.30 C211.97 423.58 231.57 423.55 250.00 423.60 C268.43 423.65 299.33 423.60 309.20 423.60" fill="none" stroke="#000" stroke-width="2.6"/><path d="M629.9 426.1 573.2 421.5 528.0 401.1 574.9 396.3 651.1 426.8 613.5 427.8 632.0 410.5 616.7 418.7 579.5 416.1 512.6 376.8 539.8 378.8 586.4 399.0 618.7 425.4 645.4 426.0 537.6 381.9 461.8 359.8 455.8 331.8 659.0 400.0 607.1 424.7 479.1 352.8 569.3 401.1 539.5 407.5 543.9 399.5 478.1 389.4 621.9 418.0 542.7 381.2 508.6 376.3 555.4 401.3 490.6 395.4 593.7 405.1 478.2 371.3 656.1 420.1 476.9 358.4 498.3 369.8 504.0 388.7 603.5 396.8 562.7 411.1 483.1 394.7 462.9 354.8 563.4 412.9 584.0 416.5 639.4 404.4 623.0 422.9 622.3 390.9 629.0 400.3 622.0 422.9 603.7 418.7 501.0 391.1 551.0 410.6 565.0 410.3 487.2 388.3 596.6 418.8 631.4 403.3 515.8 398.9 567.3 405.4 611.9 412.8 594.9 396.4 616.9 415.6 457.9 336.5 486.3 396.6 531.7 384.9 519.0 373.8 533.6 392.1 541.5 383.4 455.4 332.7 634.1 418.4 609.6 415.9 602.0 394.3 629.8 418.3 573.4 418.2 484.8 390.1 510.5 387.8 617.7 391.6 478.7 354.5 579.6 406.2 458.2 324.8 567.0 397.5 495.9 400.2 528.2 379.9 576.6 395.8 613.3 415.4 487.4 394.1 485.7 365.7 632.1 415.7 516.3 404.4 522.2 390.4 572.8 392.5 532.1 379.5 480.0 365.2 462.4 342.4 601.2 414.1 454.4 321.4 488.4 391.4 623.9 428.9 458.8 357.7 525.3 396.1 628.2 403.1 557.6 403.1 483.1 367.8 487.7 393.9 613.0 423.3 604.5 422.8 631.7 417.2 462.0 365.3 473.2 355.3 468.0 363.4 469.9 371.0 591.4 403.8 641.6 407.1 517.2 394.0 522.7 383.9 545.9 411.4 519.3 375.0 647.4 408.0 548.5 402.7 615.2 391.0 647.4 401.8 473.8 355.6 519.7 405.1 550.2 414.3 604.0 402.2 652.1 404.9 515.5 400.6 583.8 404.1 604.9 403.7 558.8 408.4 611.1 391.0 465.1 374.3 486.9 394.4 545.2 380.9 530.6 395.2 646.1 422.5 483.4 388.3 518.5 382.7 556.4 416.3 513.9 377.7 619.1 413.6 637.0 422.8 618.3 392.1 549.0 418.5 556.4 407.5 600.9 400.7 554.8 411.4 533.6 388.6 615.9 388.4 608.4 396.9 496.5 390.2 472.7 366.6 456.3 321.6 600.9 392.2 512.9 388.6 600.2 395.3 558.7 397.3 619.1 403.7 463.5 335.6 561.0 394.8 582.2 402.3 658.5 410.9 555.0 394.9 495.1 394.0 492.1 367.4 616.2 422.4 532.4 396.8 516.2 396.9 461.4 349.0 598.0 426.0 639.5 413.6 542.0 414.9 543.2 382.7 556.3 408.8 610.2 401.0 632.4 414.7 591.8 404.8 555.2 390.6 525.0 396.8 460.1 337.0 650.9 409.9 643.6 428.2 533.6 385.3 571.6 407.3 609.3 401.3 558.7 406.3 498.7 371.8 637.2 419.6 490.8 394.6 588.8 398.8 459.4 321.1 593.9 406.1 612.1 415.9 574.9 396.4 525.5 388.6 560.8 413.1 630.6 420.3 570.8 397.8 501.3 364.9 577.1 407.2 546.2 409.5 582.9 415.1 579.8 394.2 627.9 412.2 464.3 346.7 502.3 388.9 508.2 400.6 543.3 401.8 569.8 403.5 470.7 351.6 515.1 405.2 503.7 392.0 554.1 416.8 628.0 410.6 469.3 345.5 472.2 373.7 619.4 415.0 569.2 407.7 508.4 401.0 566.0 415.4 579.1 423.4 471.2 365.4 474.6 360.4 490.9 369.4 560.6 411.6 600.8 417.2 500.1 376.0 638.9 415.6 473.4 380.0 515.6 398.2 641.8 428.2 632.0 397.2 631.7 400.4 629.1 404.4 506.6 387.0 505.8 368.0 506.6 365.2 526.8 399.3 575.3 396.9 557.9 412.0 470.5 364.4 456.5 345.1 548.2 415.4 601.6 400.6 487.0 386.4 632.4 398.6 638.0 419.7 461.9 359.4 588.1 399.5 516.7 381.4 485.1 379.4 520.3 379.2 502.0 369.8 559.0 386.9 634.5 418.8 537.0 403.4 570.7 408.7 591.9 407.7 483.7 388.9 515.5 400.8 548.3 418.4 543.0 410.0 530.8 405.5 463.5 357.3 537.4 392.4 613.6 387.8 602.3 408.5 567.0 402.9 475.8 360.9 650.1 419.3 505.4 368.9 593.2 406.9 454.2 340.7 596.0 401.3 470.7 378.0 511.5 399.2 618.6 412.7 471.2 352.5 591.3 411.6 539.3 377.6 491.7 359.8 475.0 373.8 615.6 394.2 578.8 419.1 511.1 376.9 613.8 396.2 620.1 402.6 552.8 420.3 615.4 422.1 537.7 403.5 481.0 367.5 497.1 376.2 458.5 336.8 459.4 328.2 498.8 402.0 459.6 347.8 504.8 382.7 561.1 413.2 578.7 390.0 645.4 404.2 546.8 407.4 648.4 420.1 597.6 419.4 503.8 401.4 487.4 371.9 476.0 361.8 491.2 377.7 600.0 388.6 580.4 400.8 454.3 343.2 472.8 366.6 475.5 350.7 573.6 398.7 464.3 366.9 546.5 397.7 551.2 402.2 559.7 403.1 571.2 400.9 608.9 406.1 619.2 408.5 582.5 416.8 475.1 371.0 566.8 410.4 562.4 407.8 635.7 403.0 487.2 357.6 617.5 408.3 535.6 383.7 527.1 396.8 485.1 389.2 479.8 366.5 598.6 404.2 480.7 375.8 477.8 355.8 622.8 406.8 460.2 322.2 568.9 419.4 647.4 422.2 547.1 390.3 626.7 410.4 471.8 345.3 614.9 412.7 587.6 402.5 559.1 394.0 622.1 391.6 601.0 389.8 618.1 394.3 611.3 406.3 517.7 406.4 457.9 339.1 461.1 324.8 543.5 406.0 509.3 379.2 612.7 404.6 537.1 392.0 652.4 407.2 525.1 379.7 471.9 370.2 552.0 403.7 639.0 423.5 597.2 424.6 619.7 409.3 538.0 391.1 584.1 391.2 466.5 345.8 524.0 386.0 575.6 404.7 570.7 419.5 498.2 399.7 462.5 367.7 584.1 413.3 613.6 427.2 525.6 401.9 539.8 381.7 607.8 420.1 627.2 422.5 467.6 363.4 605.6 414.8 569.8 397.4 547.7 389.8 645.6 413.2 611.8 390.0 634.9 417.0 630.3 399.4 539.4 392.4 489.0 396.6 564.8 409.2 630.3 410.7 502.9 363.6 546.0 387.0 485.7 357.9 506.2 391.1 619.9 387.3 538.5 398.1 604.5 404.1 464.3 335.7 547.5 416.6 575.1 397.3 623.8 397.9 526.5 400.0 485.4 378.7 638.7 419.7 566.3 419.9 577.6 414.2 482.6 369.2 472.0 371.0 497.8 383.4 631.2 401.6 572.8 411.2 582.7 402.4 507.6 382.7 580.4 407.6 618.3 390.5 476.7 368.0 498.9 374.5 601.0 424.1 473.7 365.1 477.3 343.4 620.8 400.4 535.3 410.4 651.7 418.7 554.8 410.0 457.3 336.9 542.2 417.1 505.2 369.3 543.4 412.6 624.7 401.7 617.6 415.2 560.4 419.9 512.9 406.3 594.8 390.7 491.9 366.2 608.6 400.5 466.3 362.4 537.4 403.5 586.4 391.4 506.6 378.2 602.8 414.6 581.2 415.2 585.4 403.6 565.2 411.1 485.3 369.1 521.9 400.7 507.2 380.3 483.0 365.7 583.7 413.1 471.4 374.3 558.9 404.7 497.2 395.0 466.2 351.0 557.3 393.0 471.6 363.4 584.3 420.0 478.8 381.9 589.3 420.9 586.8 403.9 580.7 416.8 487.3 386.0 555.2 403.8 563.8 400.0 583.5 407.0 490.7 384.8 589.4 405.4 584.3 410.1 473.3 374.9 589.9 401.7 533.8 400.7 493.9 375.6 547.7 399.2 525.4 395.1 537.6 409.5 583.9 410.9 496.6 386.1 480.5 373.1 582.6 421.3 577.0 404.2 598.7 409.4 482.3 385.3 547.0 405.3 501.6 387.0 542.8 398.2 568.2 421.2 525.4 399.6 486.2 370.2 488.0 369.1 592.3 412.3 586.9 400.0 578.5 409.7 494.1 384.5 548.1 395.4 495.8 395.6 518.4 385.0 508.2 384.3 504.4 391.0 468.3 365.8 526.9 398.6 466.6 351.5 537.5 394.2 537.1 411.6 575.3 400.7 476.1 363.4 594.4 411.2 479.6 375.3 504.7 381.2 525.5 392.1 581.3 410.1 577.2 418.7 462.1 362.6 477.6 365.8 461.3 355.1 567.4 401.0 598.6 410.8 571.6 397.8 518.8 383.6 591.9 417.0 489.1 370.7 494.7 371.3 533.5 393.1 582.0 407.1 540.3 393.2 479.4 363.1 575.5 419.0 595.4 415.2 558.8 402.8 547.6 404.3 477.4 360.2 590.9 409.9 496.6 383.9 572.7 407.7 526.5 396.5 475.4 370.0 478.3 370.9 480.0 375.7 471.4 359.2 472.3 372.0 512.7 396.7 489.3 389.0 489.4 380.2 580.4 400.2 523.2 407.3 457.8 340.2 507.0 398.3 508.5 388.7 547.5 398.5 456.8 339.9 532.8 397.8 488.7 382.5 536.4 409.7 471.4 353.5 464.2 350.1 515.5 403.3 510.9 397.0 486.7 387.9 534.9 411.8 480.8 381.6 496.0 378.4 541.4 402.2 483.0 370.0 551.6 406.3 573.8 419.3 520.4 408.2 453.8 341.7 477.4 366.3 469.5 350.6 522.3 396.0 531.0 392.1 519.5 396.9 533.3 389.5 544.7 414.2 523.6 391.6 555.2 409.1 553.8 409.8 493.6 385.9 527.0 385.2 574.3 401.7 542.1 399.3 593.5 405.6 557.5 398.5 564.0 411.7 529.2 406.7 585.8 400.8 544.0 395.6 517.8 387.0 584.9 409.6 573.4 396.9 553.4 406.0 511.3 390.5 545.6 412.7 524.4 394.2 493.5 384.2 553.0 413.1 503.0 381.6 577.3 405.7 486.7 383.2 566.1 416.3 460.1 359.6 548.2 398.7 572.6 416.0 576.9 401.1 559.9 408.2 578.3 408.9 543.1 405.6 484.3 373.0 510.6 387.9 493.5 384.7 470.0 367.7 501.2 392.2 505.9 385.3 515.2 382.6 543.1 396.3 553.2 408.9 538.4 393.2 525.5 398.4 458.9 353.7 522.4 407.9 519.8 398.6 454.9 321.6 457.1 325.0 472.1 363.3 462.5 355.7 456.3 354.2 460.3 336.1 455.8 349.1 458.8 341.4 468.3 357.0 463.1 355.3 471.6 349.7 458.2 331.8 460.1 326.9 460.3 335.6 461.1 319.6 460.9 342.2 461.8 336.4 466.8 358.7 464.6 332.2 469.4 342.5 466.0 342.6 471.6 356.9 457.4 332.3 464.1 354.3 460.4 357.1 465.7 340.1 458.7 358.8 458.8 338.2 471.6 347.6 462.3 346.2 457.9 323.9 462.4 330.0 467.4 346.5 460.8 352.9 456.4 354.3 458.9 346.8 467.5 338.6 463.1 363.5 465.7 340.0 461.0 329.1 464.8 340.1 451.8 339.8 459.3 324.7 462.1 344.9 466.3 365.5 461.2 339.0 461.5 357.9 455.4 339.6 463.5 336.5 466.5 358.2 459.4 339.4 459.1 334.1 472.2 353.4 456.1 341.5 460.3 355.6 469.8 358.8 462.7 333.1 462.5 323.7 458.8 381.5 483.0 345.5 487.0 347.0 490.0 350.0 536.0 372.0 599.0 384.0 640.0 388.0 517.5 363.5 500.0 352.0" fill="none" stroke="none" marker-start="url(#mD)" marker-mid="url(#mD)" marker-end="url(#mD)"/><path d="M453.20 338.90 C454.42 340.60 457.53 345.37 460.50 349.10 C463.47 352.83 467.20 357.30 471.00 361.30 C474.80 365.30 479.20 369.60 483.30 373.10 C487.40 376.60 491.22 379.48 495.60 382.30 C499.98 385.12 504.35 387.62 509.60 390.00 C514.85 392.38 521.70 394.82 527.10 396.60 C532.50 398.38 538.30 399.73 542.00 400.70 C545.70 401.67 544.88 401.48 549.30 402.40 C553.72 403.32 562.08 405.17 568.50 406.20 C574.92 407.23 581.37 407.93 587.80 408.60 C594.23 409.27 600.68 409.75 607.10 410.20 C613.52 410.65 617.65 410.95 626.30 411.30 C634.95 411.65 653.55 412.13 659.00 412.30" fill="none" stroke="#000" stroke-width="1.7"/><path d="M126.4 727.4L128.9 727.4M275.8 642.6L276.4 639.6M277.1 634.8L278.7 621.8M279.5 621.7L280.5 625.6M281.4 630.3L283.0 640.2M283.9 645.0L284.6 648.7M292.5 634.9L292.7 633.8M293.7 629.1L293.9 627.9M294.7 623.1L296.5 610.3M296.9 605.5L297.9 576.2M298.4 576.2L301.3 591.4M301.8 596.2L304.0 674.3M304.2 679.1L306.0 711.4M306.6 716.2L307.3 720.2" fill="none" stroke="#555" stroke-width="0.9" stroke-dasharray="3 1.6 1 1.6"/><path d="M86.1 731.4a2.40 2.40 0 1 0 4.80 0a2.40 2.40 0 1 0 -4.80 0M87.7 731.4a2.40 2.40 0 1 0 4.80 0a2.40 2.40 0 1 0 -4.80 0M89.3 731.4a2.40 2.40 0 1 0 4.80 0a2.40 2.40 0 1 0 -4.80 0M90.9 731.4a2.40 2.40 0 1 0 4.80 0a2.40 2.40 0 1 0 -4.80 0M92.5 731.4a2.40 2.40 0 1 0 4.80 0a2.40 2.40 0 1 0 -4.80 0M94.1 731.4a2.40 2.40 0 1 0 4.80 0a2.40 2.40 0 1 0 -4.80 0M95.7 731.4a2.40 2.40 0 1 0 4.80 0a2.40 2.40 0 1 0 -4.80 0M97.3 731.4a2.40 2.40 0 1 0 4.80 0a2.40 2.40 0 1 0 -4.80 0M98.9 731.4a2.40 2.40 0 1 0 4.80 0a2.40 2.40 0 1 0 -4.80 0M100.5 731.4a2.40 2.40 0 1 0 4.80 0a2.40 2.40 0 1 0 -4.80 0M102.1 731.4a2.40 2.40 0 1 0 4.80 0a2.40 2.40 0 1 0 -4.80 0M103.7 731.4a2.40 2.40 0 1 0 4.80 0a2.40 2.40 0 1 0 -4.80 0M105.3 731.4a2.40 2.40 0 1 0 4.80 0a2.40 2.40 0 1 0 -4.80 0M106.9 731.4a2.40 2.40 0 1 0 4.80 0a2.40 2.40 0 1 0 -4.80 0M108.5 731.4a2.40 2.40 0 1 0 4.80 0a2.40 2.40 0 1 0 -4.80 0M110.1 731.4a2.40 2.40 0 1 0 4.80 0a2.40 2.40 0 1 0 -4.80 0M111.7 731.4a2.40 2.40 0 1 0 4.80 0a2.40 2.40 0 1 0 -4.80 0M113.3 731.4a2.40 2.40 0 1 0 4.80 0a2.40 2.40 0 1 0 -4.80 0M114.9 731.4a2.40 2.40 0 1 0 4.80 0a2.40 2.40 0 1 0 -4.80 0M116.5 731.4a2.40 2.40 0 1 0 4.80 0a2.40 2.40 0 1 0 -4.80 0M118.1 731.4a2.40 2.40 0 1 0 4.80 0a2.40 2.40 0 1 0 -4.80 0M121.6 727.4a2.40 2.40 0 1 0 4.80 0a2.40 2.40 0 1 0 -4.80 0M128.9 727.4a2.40 2.40 0 1 0 4.80 0a2.40 2.40 0 1 0 -4.80 0M133.2 728.2a2.40 2.40 0 1 0 4.80 0a2.40 2.40 0 1 0 -4.80 0M136.2 728.8a2.40 2.40 0 1 0 4.80 0a2.40 2.40 0 1 0 -4.80 0M137.9 727.7a2.40 2.40 0 1 0 4.80 0a2.40 2.40 0 1 0 -4.80 0M140.3 729.0a2.40 2.40 0 1 0 4.80 0a2.40 2.40 0 1 0 -4.80 0M142.5 728.2a2.40 2.40 0 1 0 4.80 0a2.40 2.40 0 1 0 -4.80 0M144.5 729.3a2.40 2.40 0 1 0 4.80 0a2.40 2.40 0 1 0 -4.80 0M146.9 729.0a2.40 2.40 0 1 0 4.80 0a2.40 2.40 0 1 0 -4.80 0M148.8 728.4a2.40 2.40 0 1 0 4.80 0a2.40 2.40 0 1 0 -4.80 0M150.7 727.9a2.40 2.40 0 1 0 4.80 0a2.40 2.40 0 1 0 -4.80 0M152.8 727.7a2.40 2.40 0 1 0 4.80 0a2.40 2.40 0 1 0 -4.80 0M154.9 728.3a2.40 2.40 0 1 0 4.80 0a2.40 2.40 0 1 0 -4.80 0M156.5 727.8a2.40 2.40 0 1 0 4.80 0a2.40 2.40 0 1 0 -4.80 0M158.9 729.2a2.40 2.40 0 1 0 4.80 0a2.40 2.40 0 1 0 -4.80 0M160.7 728.1a2.40 2.40 0 1 0 4.80 0a2.40 2.40 0 1 0 -4.80 0M164.1 728.1a2.40 2.40 0 1 0 4.80 0a2.40 2.40 0 1 0 -4.80 0M165.5 727.9a2.40 2.40 0 1 0 4.80 0a2.40 2.40 0 1 0 -4.80 0M167.2 728.6a2.40 2.40 0 1 0 4.80 0a2.40 2.40 0 1 0 -4.80 0M169.8 727.2a2.40 2.40 0 1 0 4.80 0a2.40 2.40 0 1 0 -4.80 0M172.1 727.5a2.40 2.40 0 1 0 4.80 0a2.40 2.40 0 1 0 -4.80 0M173.9 728.0a2.40 2.40 0 1 0 4.80 0a2.40 2.40 0 1 0 -4.80 0M175.5 727.2a2.40 2.40 0 1 0 4.80 0a2.40 2.40 0 1 0 -4.80 0M177.9 726.8a2.40 2.40 0 1 0 4.80 0a2.40 2.40 0 1 0 -4.80 0M180.3 726.8a2.40 2.40 0 1 0 4.80 0a2.40 2.40 0 1 0 -4.80 0M181.6 725.3a2.40 2.40 0 1 0 4.80 0a2.40 2.40 0 1 0 -4.80 0M183.9 725.2a2.40 2.40 0 1 0 4.80 0a2.40 2.40 0 1 0 -4.80 0M186.6 724.4a2.40 2.40 0 1 0 4.80 0a2.40 2.40 0 1 0 -4.80 0M187.6 725.3a2.40 2.40 0 1 0 4.80 0a2.40 2.40 0 1 0 -4.80 0M189.9 722.5a2.40 2.40 0 1 0 4.80 0a2.40 2.40 0 1 0 -4.80 0M191.4 723.8a2.40 2.40 0 1 0 4.80 0a2.40 2.40 0 1 0 -4.80 0M194.3 722.8a2.40 2.40 0 1 0 4.80 0a2.40 2.40 0 1 0 -4.80 0M196.2 720.7a2.40 2.40 0 1 0 4.80 0a2.40 2.40 0 1 0 -4.80 0M197.5 720.0a2.40 2.40 0 1 0 4.80 0a2.40 2.40 0 1 0 -4.80 0M199.8 719.4a2.40 2.40 0 1 0 4.80 0a2.40 2.40 0 1 0 -4.80 0M202.0 718.3a2.40 2.40 0 1 0 4.80 0a2.40 2.40 0 1 0 -4.80 0M203.9 718.1a2.40 2.40 0 1 0 4.80 0a2.40 2.40 0 1 0 -4.80 0M205.4 716.5a2.40 2.40 0 1 0 4.80 0a2.40 2.40 0 1 0 -4.80 0M207.5 714.8a2.40 2.40 0 1 0 4.80 0a2.40 2.40 0 1 0 -4.80 0M208.8 714.9a2.40 2.40 0 1 0 4.80 0a2.40 2.40 0 1 0 -4.80 0M210.7 713.1a2.40 2.40 0 1 0 4.80 0a2.40 2.40 0 1 0 -4.80 0M212.8 713.0a2.40 2.40 0 1 0 4.80 0a2.40 2.40 0 1 0 -4.80 0M214.9 710.9a2.40 2.40 0 1 0 4.80 0a2.40 2.40 0 1 0 -4.80 0M216.2 710.9a2.40 2.40 0 1 0 4.80 0a2.40 2.40 0 1 0 -4.80 0M218.0 709.0a2.40 2.40 0 1 0 4.80 0a2.40 2.40 0 1 0 -4.80 0M219.9 708.1a2.40 2.40 0 1 0 4.80 0a2.40 2.40 0 1 0 -4.80 0M222.1 707.0a2.40 2.40 0 1 0 4.80 0a2.40 2.40 0 1 0 -4.80 0M223.9 706.0a2.40 2.40 0 1 0 4.80 0a2.40 2.40 0 1 0 -4.80 0M225.5 705.4a2.40 2.40 0 1 0 4.80 0a2.40 2.40 0 1 0 -4.80 0M227.2 703.2a2.40 2.40 0 1 0 4.80 0a2.40 2.40 0 1 0 -4.80 0M227.9 701.7a2.40 2.40 0 1 0 4.80 0a2.40 2.40 0 1 0 -4.80 0M230.3 701.8a2.40 2.40 0 1 0 4.80 0a2.40 2.40 0 1 0 -4.80 0M231.9 700.5a2.40 2.40 0 1 0 4.80 0a2.40 2.40 0 1 0 -4.80 0M233.4 698.2a2.40 2.40 0 1 0 4.80 0a2.40 2.40 0 1 0 -4.80 0M235.0 696.0a2.40 2.40 0 1 0 4.80 0a2.40 2.40 0 1 0 -4.80 0M235.8 695.7a2.40 2.40 0 1 0 4.80 0a2.40 2.40 0 1 0 -4.80 0M237.8 693.7a2.40 2.40 0 1 0 4.80 0a2.40 2.40 0 1 0 -4.80 0M239.5 692.1a2.40 2.40 0 1 0 4.80 0a2.40 2.40 0 1 0 -4.80 0M241.0 691.0a2.40 2.40 0 1 0 4.80 0a2.40 2.40 0 1 0 -4.80 0M241.9 690.4a2.40 2.40 0 1 0 4.80 0a2.40 2.40 0 1 0 -4.80 0M243.9 687.3a2.40 2.40 0 1 0 4.80 0a2.40 2.40 0 1 0 -4.80 0M244.4 684.3a2.40 2.40 0 1 0 4.80 0a2.40 2.40 0 1 0 -4.80 0M245.9 687.9a2.40 2.40 0 1 0 4.80 0a2.40 2.40 0 1 0 -4.80 0M247.2 684.6a2.40 2.40 0 1 0 4.80 0a2.40 2.40 0 1 0 -4.80 0M248.8 683.9a2.40 2.40 0 1 0 4.80 0a2.40 2.40 0 1 0 -4.80 0M249.4 682.4a2.40 2.40 0 1 0 4.80 0a2.40 2.40 0 1 0 -4.80 0M250.8 680.5a2.40 2.40 0 1 0 4.80 0a2.40 2.40 0 1 0 -4.80 0M252.5 679.3a2.40 2.40 0 1 0 4.80 0a2.40 2.40 0 1 0 -4.80 0M253.0 677.0a2.40 2.40 0 1 0 4.80 0a2.40 2.40 0 1 0 -4.80 0M255.0 674.9a2.40 2.40 0 1 0 4.80 0a2.40 2.40 0 1 0 -4.80 0M255.8 673.1a2.40 2.40 0 1 0 4.80 0a2.40 2.40 0 1 0 -4.80 0M256.8 671.5a2.40 2.40 0 1 0 4.80 0a2.40 2.40 0 1 0 -4.80 0M257.7 670.0a2.40 2.40 0 1 0 4.80 0a2.40 2.40 0 1 0 -4.80 0M259.6 667.9a2.40 2.40 0 1 0 4.80 0a2.40 2.40 0 1 0 -4.80 0M261.1 666.9a2.40 2.40 0 1 0 4.80 0a2.40 2.40 0 1 0 -4.80 0M262.5 665.4a2.40 2.40 0 1 0 4.80 0a2.40 2.40 0 1 0 -4.80 0M263.0 663.4a2.40 2.40 0 1 0 4.80 0a2.40 2.40 0 1 0 -4.80 0M264.4 661.8a2.40 2.40 0 1 0 4.80 0a2.40 2.40 0 1 0 -4.80 0M266.1 660.2a2.40 2.40 0 1 0 4.80 0a2.40 2.40 0 1 0 -4.80 0M267.0 659.0a2.40 2.40 0 1 0 4.80 0a2.40 2.40 0 1 0 -4.80 0M267.5 657.1a2.40 2.40 0 1 0 4.80 0a2.40 2.40 0 1 0 -4.80 0M269.4 654.3a2.40 2.40 0 1 0 4.80 0a2.40 2.40 0 1 0 -4.80 0M270.3 652.8a2.40 2.40 0 1 0 4.80 0a2.40 2.40 0 1 0 -4.80 0M270.9 650.9a2.40 2.40 0 1 0 4.80 0a2.40 2.40 0 1 0 -4.80 0M272.4 649.7a2.40 2.40 0 1 0 4.80 0a2.40 2.40 0 1 0 -4.80 0M273.0 645.0a2.40 2.40 0 1 0 4.80 0a2.40 2.40 0 1 0 -4.80 0M274.4 637.2a2.40 2.40 0 1 0 4.80 0a2.40 2.40 0 1 0 -4.80 0M276.6 619.4a2.40 2.40 0 1 0 4.80 0a2.40 2.40 0 1 0 -4.80 0M278.6 627.9a2.40 2.40 0 1 0 4.80 0a2.40 2.40 0 1 0 -4.80 0M281.0 642.6a2.40 2.40 0 1 0 4.80 0a2.40 2.40 0 1 0 -4.80 0M282.7 651.1a2.40 2.40 0 1 0 4.80 0a2.40 2.40 0 1 0 -4.80 0M284.6 647.4a2.40 2.40 0 1 0 4.80 0a2.40 2.40 0 1 0 -4.80 0M286.2 643.5a2.40 2.40 0 1 0 4.80 0a2.40 2.40 0 1 0 -4.80 0M287.6 638.9a2.40 2.40 0 1 0 4.80 0a2.40 2.40 0 1 0 -4.80 0M289.6 637.2a2.40 2.40 0 1 0 4.80 0a2.40 2.40 0 1 0 -4.80 0M290.8 631.5a2.40 2.40 0 1 0 4.80 0a2.40 2.40 0 1 0 -4.80 0M292.0 625.5a2.40 2.40 0 1 0 4.80 0a2.40 2.40 0 1 0 -4.80 0M294.4 607.9a2.40 2.40 0 1 0 4.80 0a2.40 2.40 0 1 0 -4.80 0M295.6 573.8a2.40 2.40 0 1 0 4.80 0a2.40 2.40 0 1 0 -4.80 0M299.3 593.8a2.40 2.40 0 1 0 4.80 0a2.40 2.40 0 1 0 -4.80 0M301.7 676.7a2.40 2.40 0 1 0 4.80 0a2.40 2.40 0 1 0 -4.80 0M303.7 713.8a2.40 2.40 0 1 0 4.80 0a2.40 2.40 0 1 0 -4.80 0M305.4 722.6a2.40 2.40 0 1 0 4.80 0a2.40 2.40 0 1 0 -4.80 0M307.1 725.5a2.40 2.40 0 1 0 4.80 0a2.40 2.40 0 1 0 -4.80 0M308.8 725.5a2.40 2.40 0 1 0 4.80 0a2.40 2.40 0 1 0 -4.80 0M310.5 725.5a2.40 2.40 0 1 0 4.80 0a2.40 2.40 0 1 0 -4.80 0M312.2 725.5a2.40 2.40 0 1 0 4.80 0a2.40 2.40 0 1 0 -4.80 0M313.9 725.5a2.40 2.40 0 1 0 4.80 0a2.40 2.40 0 1 0 -4.80 0M315.6 725.5a2.40 2.40 0 1 0 4.80 0a2.40 2.40 0 1 0 -4.80 0M317.3 725.5a2.40 2.40 0 1 0 4.80 0a2.40 2.40 0 1 0 -4.80 0" fill="none" stroke="#1a1a1a" stroke-width="0.85"/><path d="M439.1 720.0L440.7 727.0M455.5 726.9L456.1 720.1M456.8 720.0L458.3 727.0M460.8 726.9L461.6 720.1M462.3 720.1L463.6 726.9M466.1 726.9L467.1 720.1M470.1 720.1L470.8 726.9M474.9 726.9L475.9 720.1M476.6 720.1L477.7 726.9M478.3 726.9L479.3 720.1M482.3 720.1L483.0 726.9M520.3 726.9L521.0 720.1M521.7 720.1L523.1 726.9M523.7 726.9L524.3 720.1M525.0 720.0L526.5 727.0M529.0 726.9L529.6 720.1M530.3 720.0L531.8 727.0M541.5 727.0L543.0 720.0M543.7 720.1L544.3 726.9M544.9 726.9L546.0 720.1M552.3 715.3L552.8 696.9M553.3 692.1L554.3 685.3M554.9 680.5L556.7 662.1M557.3 662.1L558.3 668.9M558.8 673.7L559.8 692.1M562.8 696.9L563.8 703.7M567.2 708.5L568.2 715.3M568.8 715.3L569.2 708.5M569.8 708.5L571.0 715.3M571.5 715.3L571.9 708.5M572.4 708.5L573.8 715.3M574.3 715.3L574.5 708.5M575.1 708.5L576.5 715.3M577.1 715.3L578.2 696.9M578.6 696.9L579.5 703.7M579.8 708.5L579.8 715.3M580.0 715.3L581.2 696.9M581.7 696.9L582.5 703.7M583.1 703.7L584.2 696.9M584.8 696.9L585.6 703.7M586.2 703.7L587.3 696.9M587.9 696.9L588.7 703.7M589.3 703.7L590.4 696.9M591.0 696.9L591.7 703.7M592.4 703.7L593.4 696.9M594.0 692.1L594.8 685.3M595.2 685.3L595.8 692.1M596.3 692.1L597.2 685.3M602.6 680.5L602.9 673.7M603.4 673.7L604.6 680.5M605.2 680.5L605.8 673.7M612.1 668.9L612.4 662.1M613.0 662.0L614.5 669.0M615.2 668.9L615.8 662.1M616.2 662.1L616.8 668.9M617.4 668.9L618.6 662.1M622.5 657.3L623.9 650.5M624.5 650.5L624.9 657.3M625.1 657.3L625.7 638.9M628.5 634.1L629.6 615.7M629.9 615.7L630.7 645.7M630.8 645.7L631.0 638.9M631.2 634.1L632.0 627.3M632.4 627.3L634.3 645.7M641.9 645.7L642.1 638.9M642.5 634.1L643.4 627.3M646.7 622.5L647.1 604.1M647.2 599.3L648.6 569.3M649.1 569.3L652.3 587.7M652.7 592.5L654.4 692.1M654.8 696.9L655.9 703.7M656.7 708.5L657.9 715.3M660.8 720.1L660.9 726.9M661.4 726.9L662.7 720.1M663.2 720.1L663.5 726.9M664.0 726.9L665.2 720.1M665.7 720.1L666.1 726.9" fill="none" stroke="#555" stroke-width="0.9" stroke-dasharray="3 1.6 1 1.6"/><path d="M436.2 717.7a2.40 2.40 0 1 0 4.80 0a2.40 2.40 0 1 0 -4.80 0M438.9 729.3a2.40 2.40 0 1 0 4.80 0a2.40 2.40 0 1 0 -4.80 0M440.6 729.3a2.40 2.40 0 1 0 4.80 0a2.40 2.40 0 1 0 -4.80 0M442.4 729.3a2.40 2.40 0 1 0 4.80 0a2.40 2.40 0 1 0 -4.80 0M444.1 729.3a2.40 2.40 0 1 0 4.80 0a2.40 2.40 0 1 0 -4.80 0M445.9 729.3a2.40 2.40 0 1 0 4.80 0a2.40 2.40 0 1 0 -4.80 0M447.6 729.3a2.40 2.40 0 1 0 4.80 0a2.40 2.40 0 1 0 -4.80 0M449.4 729.3a2.40 2.40 0 1 0 4.80 0a2.40 2.40 0 1 0 -4.80 0M451.1 729.3a2.40 2.40 0 1 0 4.80 0a2.40 2.40 0 1 0 -4.80 0M452.9 729.3a2.40 2.40 0 1 0 4.80 0a2.40 2.40 0 1 0 -4.80 0M453.9 717.7a2.40 2.40 0 1 0 4.80 0a2.40 2.40 0 1 0 -4.80 0M456.4 729.3a2.40 2.40 0 1 0 4.80 0a2.40 2.40 0 1 0 -4.80 0M458.1 729.3a2.40 2.40 0 1 0 4.80 0a2.40 2.40 0 1 0 -4.80 0M459.5 717.7a2.40 2.40 0 1 0 4.80 0a2.40 2.40 0 1 0 -4.80 0M461.6 729.3a2.40 2.40 0 1 0 4.80 0a2.40 2.40 0 1 0 -4.80 0M463.4 729.3a2.40 2.40 0 1 0 4.80 0a2.40 2.40 0 1 0 -4.80 0M465.1 717.7a2.40 2.40 0 1 0 4.80 0a2.40 2.40 0 1 0 -4.80 0M467.5 717.7a2.40 2.40 0 1 0 4.80 0a2.40 2.40 0 1 0 -4.80 0M468.6 729.3a2.40 2.40 0 1 0 4.80 0a2.40 2.40 0 1 0 -4.80 0M470.4 729.3a2.40 2.40 0 1 0 4.80 0a2.40 2.40 0 1 0 -4.80 0M472.1 729.3a2.40 2.40 0 1 0 4.80 0a2.40 2.40 0 1 0 -4.80 0M473.9 717.7a2.40 2.40 0 1 0 4.80 0a2.40 2.40 0 1 0 -4.80 0M475.6 729.3a2.40 2.40 0 1 0 4.80 0a2.40 2.40 0 1 0 -4.80 0M477.2 717.7a2.40 2.40 0 1 0 4.80 0a2.40 2.40 0 1 0 -4.80 0M479.6 717.7a2.40 2.40 0 1 0 4.80 0a2.40 2.40 0 1 0 -4.80 0M480.9 729.3a2.40 2.40 0 1 0 4.80 0a2.40 2.40 0 1 0 -4.80 0M482.6 729.3a2.40 2.40 0 1 0 4.80 0a2.40 2.40 0 1 0 -4.80 0M484.4 729.3a2.40 2.40 0 1 0 4.80 0a2.40 2.40 0 1 0 -4.80 0M486.1 729.3a2.40 2.40 0 1 0 4.80 0a2.40 2.40 0 1 0 -4.80 0M487.9 729.3a2.40 2.40 0 1 0 4.80 0a2.40 2.40 0 1 0 -4.80 0M489.6 729.3a2.40 2.40 0 1 0 4.80 0a2.40 2.40 0 1 0 -4.80 0M491.4 729.3a2.40 2.40 0 1 0 4.80 0a2.40 2.40 0 1 0 -4.80 0M493.1 729.3a2.40 2.40 0 1 0 4.80 0a2.40 2.40 0 1 0 -4.80 0M494.9 729.3a2.40 2.40 0 1 0 4.80 0a2.40 2.40 0 1 0 -4.80 0M496.6 729.3a2.40 2.40 0 1 0 4.80 0a2.40 2.40 0 1 0 -4.80 0M498.4 729.3a2.40 2.40 0 1 0 4.80 0a2.40 2.40 0 1 0 -4.80 0M500.1 729.3a2.40 2.40 0 1 0 4.80 0a2.40 2.40 0 1 0 -4.80 0M501.9 729.3a2.40 2.40 0 1 0 4.80 0a2.40 2.40 0 1 0 -4.80 0M503.6 729.3a2.40 2.40 0 1 0 4.80 0a2.40 2.40 0 1 0 -4.80 0M505.4 729.3a2.40 2.40 0 1 0 4.80 0a2.40 2.40 0 1 0 -4.80 0M507.1 729.3a2.40 2.40 0 1 0 4.80 0a2.40 2.40 0 1 0 -4.80 0M508.9 729.3a2.40 2.40 0 1 0 4.80 0a2.40 2.40 0 1 0 -4.80 0M510.6 729.3a2.40 2.40 0 1 0 4.80 0a2.40 2.40 0 1 0 -4.80 0M512.4 729.3a2.40 2.40 0 1 0 4.80 0a2.40 2.40 0 1 0 -4.80 0M514.1 729.3a2.40 2.40 0 1 0 4.80 0a2.40 2.40 0 1 0 -4.80 0M515.9 729.3a2.40 2.40 0 1 0 4.80 0a2.40 2.40 0 1 0 -4.80 0M517.6 729.3a2.40 2.40 0 1 0 4.80 0a2.40 2.40 0 1 0 -4.80 0M518.9 717.7a2.40 2.40 0 1 0 4.80 0a2.40 2.40 0 1 0 -4.80 0M521.1 729.3a2.40 2.40 0 1 0 4.80 0a2.40 2.40 0 1 0 -4.80 0M522.1 717.7a2.40 2.40 0 1 0 4.80 0a2.40 2.40 0 1 0 -4.80 0M524.6 729.3a2.40 2.40 0 1 0 4.80 0a2.40 2.40 0 1 0 -4.80 0M526.4 729.3a2.40 2.40 0 1 0 4.80 0a2.40 2.40 0 1 0 -4.80 0M527.4 717.7a2.40 2.40 0 1 0 4.80 0a2.40 2.40 0 1 0 -4.80 0M529.9 729.3a2.40 2.40 0 1 0 4.80 0a2.40 2.40 0 1 0 -4.80 0M531.6 729.3a2.40 2.40 0 1 0 4.80 0a2.40 2.40 0 1 0 -4.80 0M533.4 729.3a2.40 2.40 0 1 0 4.80 0a2.40 2.40 0 1 0 -4.80 0M535.1 729.3a2.40 2.40 0 1 0 4.80 0a2.40 2.40 0 1 0 -4.80 0M536.9 729.3a2.40 2.40 0 1 0 4.80 0a2.40 2.40 0 1 0 -4.80 0M538.6 729.3a2.40 2.40 0 1 0 4.80 0a2.40 2.40 0 1 0 -4.80 0M541.1 717.7a2.40 2.40 0 1 0 4.80 0a2.40 2.40 0 1 0 -4.80 0M542.1 729.3a2.40 2.40 0 1 0 4.80 0a2.40 2.40 0 1 0 -4.80 0M544.0 717.7a2.40 2.40 0 1 0 4.80 0a2.40 2.40 0 1 0 -4.80 0M546.9 717.7a2.40 2.40 0 1 0 4.80 0a2.40 2.40 0 1 0 -4.80 0M549.8 717.7a2.40 2.40 0 1 0 4.80 0a2.40 2.40 0 1 0 -4.80 0M550.5 694.5a2.40 2.40 0 1 0 4.80 0a2.40 2.40 0 1 0 -4.80 0M552.3 682.9a2.40 2.40 0 1 0 4.80 0a2.40 2.40 0 1 0 -4.80 0M554.5 659.7a2.40 2.40 0 1 0 4.80 0a2.40 2.40 0 1 0 -4.80 0M556.3 671.3a2.40 2.40 0 1 0 4.80 0a2.40 2.40 0 1 0 -4.80 0M557.5 694.5a2.40 2.40 0 1 0 4.80 0a2.40 2.40 0 1 0 -4.80 0M560.0 694.5a2.40 2.40 0 1 0 4.80 0a2.40 2.40 0 1 0 -4.80 0M561.8 706.1a2.40 2.40 0 1 0 4.80 0a2.40 2.40 0 1 0 -4.80 0M564.4 706.1a2.40 2.40 0 1 0 4.80 0a2.40 2.40 0 1 0 -4.80 0M566.2 717.7a2.40 2.40 0 1 0 4.80 0a2.40 2.40 0 1 0 -4.80 0M567.0 706.1a2.40 2.40 0 1 0 4.80 0a2.40 2.40 0 1 0 -4.80 0M569.0 717.7a2.40 2.40 0 1 0 4.80 0a2.40 2.40 0 1 0 -4.80 0M569.6 706.1a2.40 2.40 0 1 0 4.80 0a2.40 2.40 0 1 0 -4.80 0M571.8 717.7a2.40 2.40 0 1 0 4.80 0a2.40 2.40 0 1 0 -4.80 0M572.2 706.1a2.40 2.40 0 1 0 4.80 0a2.40 2.40 0 1 0 -4.80 0M574.6 717.7a2.40 2.40 0 1 0 4.80 0a2.40 2.40 0 1 0 -4.80 0M575.9 694.5a2.40 2.40 0 1 0 4.80 0a2.40 2.40 0 1 0 -4.80 0M577.4 706.1a2.40 2.40 0 1 0 4.80 0a2.40 2.40 0 1 0 -4.80 0M577.4 717.7a2.40 2.40 0 1 0 4.80 0a2.40 2.40 0 1 0 -4.80 0M579.0 694.5a2.40 2.40 0 1 0 4.80 0a2.40 2.40 0 1 0 -4.80 0M580.4 706.1a2.40 2.40 0 1 0 4.80 0a2.40 2.40 0 1 0 -4.80 0M582.1 694.5a2.40 2.40 0 1 0 4.80 0a2.40 2.40 0 1 0 -4.80 0M583.5 706.1a2.40 2.40 0 1 0 4.80 0a2.40 2.40 0 1 0 -4.80 0M585.2 694.5a2.40 2.40 0 1 0 4.80 0a2.40 2.40 0 1 0 -4.80 0M586.6 706.1a2.40 2.40 0 1 0 4.80 0a2.40 2.40 0 1 0 -4.80 0M588.3 694.5a2.40 2.40 0 1 0 4.80 0a2.40 2.40 0 1 0 -4.80 0M589.6 706.1a2.40 2.40 0 1 0 4.80 0a2.40 2.40 0 1 0 -4.80 0M591.4 694.5a2.40 2.40 0 1 0 4.80 0a2.40 2.40 0 1 0 -4.80 0M592.6 682.9a2.40 2.40 0 1 0 4.80 0a2.40 2.40 0 1 0 -4.80 0M593.6 694.5a2.40 2.40 0 1 0 4.80 0a2.40 2.40 0 1 0 -4.80 0M595.1 682.9a2.40 2.40 0 1 0 4.80 0a2.40 2.40 0 1 0 -4.80 0M597.6 682.9a2.40 2.40 0 1 0 4.80 0a2.40 2.40 0 1 0 -4.80 0M600.1 682.9a2.40 2.40 0 1 0 4.80 0a2.40 2.40 0 1 0 -4.80 0M600.6 671.3a2.40 2.40 0 1 0 4.80 0a2.40 2.40 0 1 0 -4.80 0M602.6 682.9a2.40 2.40 0 1 0 4.80 0a2.40 2.40 0 1 0 -4.80 0M603.6 671.3a2.40 2.40 0 1 0 4.80 0a2.40 2.40 0 1 0 -4.80 0M606.6 671.3a2.40 2.40 0 1 0 4.80 0a2.40 2.40 0 1 0 -4.80 0M609.6 671.3a2.40 2.40 0 1 0 4.80 0a2.40 2.40 0 1 0 -4.80 0M610.1 659.7a2.40 2.40 0 1 0 4.80 0a2.40 2.40 0 1 0 -4.80 0M612.6 671.3a2.40 2.40 0 1 0 4.80 0a2.40 2.40 0 1 0 -4.80 0M613.6 659.7a2.40 2.40 0 1 0 4.80 0a2.40 2.40 0 1 0 -4.80 0M614.6 671.3a2.40 2.40 0 1 0 4.80 0a2.40 2.40 0 1 0 -4.80 0M616.6 659.7a2.40 2.40 0 1 0 4.80 0a2.40 2.40 0 1 0 -4.80 0M619.6 659.7a2.40 2.40 0 1 0 4.80 0a2.40 2.40 0 1 0 -4.80 0M622.0 648.1a2.40 2.40 0 1 0 4.80 0a2.40 2.40 0 1 0 -4.80 0M622.6 659.7a2.40 2.40 0 1 0 4.80 0a2.40 2.40 0 1 0 -4.80 0M623.4 636.5a2.40 2.40 0 1 0 4.80 0a2.40 2.40 0 1 0 -4.80 0M625.9 636.5a2.40 2.40 0 1 0 4.80 0a2.40 2.40 0 1 0 -4.80 0M627.4 613.3a2.40 2.40 0 1 0 4.80 0a2.40 2.40 0 1 0 -4.80 0M628.4 648.1a2.40 2.40 0 1 0 4.80 0a2.40 2.40 0 1 0 -4.80 0M628.6 636.5a2.40 2.40 0 1 0 4.80 0a2.40 2.40 0 1 0 -4.80 0M629.8 624.9a2.40 2.40 0 1 0 4.80 0a2.40 2.40 0 1 0 -4.80 0M632.1 648.1a2.40 2.40 0 1 0 4.80 0a2.40 2.40 0 1 0 -4.80 0M635.8 648.1a2.40 2.40 0 1 0 4.80 0a2.40 2.40 0 1 0 -4.80 0M639.4 648.1a2.40 2.40 0 1 0 4.80 0a2.40 2.40 0 1 0 -4.80 0M639.8 636.5a2.40 2.40 0 1 0 4.80 0a2.40 2.40 0 1 0 -4.80 0M641.3 624.9a2.40 2.40 0 1 0 4.80 0a2.40 2.40 0 1 0 -4.80 0M644.3 624.9a2.40 2.40 0 1 0 4.80 0a2.40 2.40 0 1 0 -4.80 0M644.7 601.7a2.40 2.40 0 1 0 4.80 0a2.40 2.40 0 1 0 -4.80 0M646.3 566.9a2.40 2.40 0 1 0 4.80 0a2.40 2.40 0 1 0 -4.80 0M650.3 590.1a2.40 2.40 0 1 0 4.80 0a2.40 2.40 0 1 0 -4.80 0M652.0 694.5a2.40 2.40 0 1 0 4.80 0a2.40 2.40 0 1 0 -4.80 0M653.9 706.1a2.40 2.40 0 1 0 4.80 0a2.40 2.40 0 1 0 -4.80 0M655.9 717.7a2.40 2.40 0 1 0 4.80 0a2.40 2.40 0 1 0 -4.80 0M658.3 717.7a2.40 2.40 0 1 0 4.80 0a2.40 2.40 0 1 0 -4.80 0M658.6 729.3a2.40 2.40 0 1 0 4.80 0a2.40 2.40 0 1 0 -4.80 0M660.7 717.7a2.40 2.40 0 1 0 4.80 0a2.40 2.40 0 1 0 -4.80 0M661.2 729.3a2.40 2.40 0 1 0 4.80 0a2.40 2.40 0 1 0 -4.80 0M663.2 717.7a2.40 2.40 0 1 0 4.80 0a2.40 2.40 0 1 0 -4.80 0M663.8 729.3a2.40 2.40 0 1 0 4.80 0a2.40 2.40 0 1 0 -4.80 0M666.4 729.3a2.40 2.40 0 1 0 4.80 0a2.40 2.40 0 1 0 -4.80 0" fill="none" stroke="#1a1a1a" stroke-width="0.85"/><rect x="91.7" y="551.7" width="100.5" height="39.0" fill="#fff" stroke="#6b6b6b" stroke-width="1.2"/><rect x="91.7" y="594.4" width="157.0" height="57.6" fill="#fff" stroke="#6b6b6b" stroke-width="1.2"/><line x1="94.4" y1="561.9" x2="129.7" y2="561.9" stroke="#555" stroke-width="1.1" stroke-dasharray="3.5 2 1 2"/><circle cx="111.5" cy="561.9" r="2.3" fill="#fff" stroke="#222" stroke-width="0.9"/><line x1="94.4" y1="581.0" x2="129.2" y2="581.0" stroke="#0000ff" stroke-width="2.2"/><text transform="translate(131.53 566.80) scale(0.9548 1)" font-size="13.66" font-family='"Liberation Sans", sans-serif' fill="#111" stroke="#111" style="stroke-width:0.15px">Measured</text><text transform="translate(131.54 585.40) scale(0.9458 1)" font-size="13.66" font-family='"Liberation Sans", sans-serif' fill="#111" stroke="#111" style="stroke-width:0.15px">Fit</text><text transform="translate(93.98 609.70) scale(0.7738 1)" font-size="10.61" font-family='"Liberation Sans", sans-serif' fill="#111" stroke="#111" style="stroke-width:0.08px">C</text><text transform="translate(100.23 612.60) scale(1.2605 1)" font-size="7.49" font-family='"Liberation Sans", sans-serif' fill="#111" stroke="#111" style="stroke-width:0.08px">2</text><text transform="translate(107.99 609.70) scale(1.0611 1)" font-size="10.61" font-family='"Liberation Sans", sans-serif' fill="#111" stroke="#111" style="stroke-width:0.08px">Swan band</text><text transform="translate(168.29 609.40) scale(1.2117 1)" font-size="11.20" font-family='"Liberation Sans", sans-serif' fill="#111" stroke="#111" style="stroke-width:0.00px">|</text><text transform="translate(175.78 609.40) scale(1.3832 1)" font-size="10.61" font-family='"Liberation Sans", sans-serif' fill="#111" stroke="#111" style="stroke-width:0.08px">d</text><text transform="translate(184.03 605.20) scale(1.1197 1)" font-size="6.22" font-family='"Liberation Sans", sans-serif' fill="#111" stroke="#111" style="stroke-width:0.08px">3</text><text transform="translate(187.19 609.40) scale(1.3834 1)" font-size="10.23" font-family='"Liberation Serif", serif' fill="#111" stroke="#111" style="stroke-width:0.00px">Π</text><text transform="translate(197.75 612.60) scale(0.7611 1)" font-size="10.81" font-family='"Liberation Sans", sans-serif' fill="#111" stroke="#111" style="stroke-width:0.08px">g</text><text transform="translate(201.20 610.30) scale(0.8897 1)" font-size="22.60" font-family='"Liberation Sans", sans-serif' fill="#111" stroke="#111" style="stroke-width:0.00px">→</text><text transform="translate(220.72 609.40) scale(0.8440 1)" font-size="10.61" font-family='"Liberation Sans", sans-serif' fill="#111" stroke="#111" style="stroke-width:0.08px">a</text><text transform="translate(226.73 605.20) scale(1.1197 1)" font-size="6.22" font-family='"Liberation Sans", sans-serif' fill="#111" stroke="#111" style="stroke-width:0.08px">3</text><text transform="translate(230.59 609.40) scale(1.3834 1)" font-size="10.23" font-family='"Liberation Serif", serif' fill="#111" stroke="#111" style="stroke-width:0.00px">Π</text><text transform="translate(241.49 611.80) scale(1.2748 1)" font-size="7.39" font-family='"Liberation Sans", sans-serif' fill="#111" stroke="#111" style="stroke-width:0.08px">u</text><text transform="translate(93.94 629.60) scale(1.0236 1)" font-size="11.16" font-family='"Liberation Sans", sans-serif' fill="#111" stroke="#111" style="stroke-width:0.08px">512.9 nm, Δν = 0 (1,1)</text><text transform="translate(93.94 646.70) scale(1.0236 1)" font-size="11.16" font-family='"Liberation Sans", sans-serif' fill="#111" stroke="#111" style="stroke-width:0.08px">516.5 nm, Δν = 0 (0,0)</text><text transform="translate(92.67 671.90) scale(0.8606 1)" font-size="11.92" font-family='"Liberation Sans", sans-serif' fill="#111" stroke="#111" style="stroke-width:0.15px">T</text><text transform="translate(99.23 675.00) scale(1.2361 1)" font-size="8.14" font-family='"Liberation Sans", sans-serif' fill="#111" stroke="#111" style="stroke-width:0.10px">rot</text><text transform="translate(114.19 671.90) scale(1.0494 1)" font-size="11.92" font-family='"Liberation Sans", sans-serif' fill="#111" stroke="#111" style="stroke-width:0.15px">= 3681±261 K</text><rect x="442.4" y="551.7" width="100.5" height="39.0" fill="#fff" stroke="#6b6b6b" stroke-width="1.2"/><rect x="442.4" y="594.4" width="157.0" height="57.6" fill="#fff" stroke="#6b6b6b" stroke-width="1.2"/><line x1="445.1" y1="561.9" x2="480.4" y2="561.9" stroke="#555" stroke-width="1.1" stroke-dasharray="3.5 2 1 2"/><circle cx="462.2" cy="561.9" r="2.3" fill="#fff" stroke="#222" stroke-width="0.9"/><line x1="445.1" y1="581.0" x2="479.9" y2="581.0" stroke="#ff0000" stroke-width="2.2"/><text transform="translate(482.23 566.80) scale(0.9548 1)" font-size="13.66" font-family='"Liberation Sans", sans-serif' fill="#111" stroke="#111" style="stroke-width:0.15px">Measured</text><text transform="translate(482.24 585.40) scale(0.9458 1)" font-size="13.66" font-family='"Liberation Sans", sans-serif' fill="#111" stroke="#111" style="stroke-width:0.15px">Fit</text><text transform="translate(444.68 609.70) scale(0.7738 1)" font-size="10.61" font-family='"Liberation Sans", sans-serif' fill="#111" stroke="#111" style="stroke-width:0.08px">C</text><text transform="translate(450.93 612.60) scale(1.2605 1)" font-size="7.49" font-family='"Liberation Sans", sans-serif' fill="#111" stroke="#111" style="stroke-width:0.08px">2</text><text transform="translate(458.69 609.70) scale(1.0611 1)" font-size="10.61" font-family='"Liberation Sans", sans-serif' fill="#111" stroke="#111" style="stroke-width:0.08px">Swan band</text><text transform="translate(518.99 609.40) scale(1.2117 1)" font-size="11.20" font-family='"Liberation Sans", sans-serif' fill="#111" stroke="#111" style="stroke-width:0.00px">|</text><text transform="translate(526.48 609.40) scale(1.3832 1)" font-size="10.61" font-family='"Liberation Sans", sans-serif' fill="#111" stroke="#111" style="stroke-width:0.08px">d</text><text transform="translate(534.73 605.20) scale(1.1197 1)" font-size="6.22" font-family='"Liberation Sans", sans-serif' fill="#111" stroke="#111" style="stroke-width:0.08px">3</text><text transform="translate(537.89 609.40) scale(1.3834 1)" font-size="10.23" font-family='"Liberation Serif", serif' fill="#111" stroke="#111" style="stroke-width:0.00px">Π</text><text transform="translate(548.45 612.60) scale(0.7611 1)" font-size="10.81" font-family='"Liberation Sans", sans-serif' fill="#111" stroke="#111" style="stroke-width:0.08px">g</text><text transform="translate(551.90 610.30) scale(0.8897 1)" font-size="22.60" font-family='"Liberation Sans", sans-serif' fill="#111" stroke="#111" style="stroke-width:0.00px">→</text><text transform="translate(571.42 609.40) scale(0.8440 1)" font-size="10.61" font-family='"Liberation Sans", sans-serif' fill="#111" stroke="#111" style="stroke-width:0.08px">a</text><text transform="translate(577.43 605.20) scale(1.1197 1)" font-size="6.22" font-family='"Liberation Sans", sans-serif' fill="#111" stroke="#111" style="stroke-width:0.08px">3</text><text transform="translate(581.29 609.40) scale(1.3834 1)" font-size="10.23" font-family='"Liberation Serif", serif' fill="#111" stroke="#111" style="stroke-width:0.00px">Π</text><text transform="translate(592.19 611.80) scale(1.2748 1)" font-size="7.39" font-family='"Liberation Sans", sans-serif' fill="#111" stroke="#111" style="stroke-width:0.08px">u</text><text transform="translate(444.64 629.60) scale(1.0236 1)" font-size="11.16" font-family='"Liberation Sans", sans-serif' fill="#111" stroke="#111" style="stroke-width:0.08px">512.9 nm, Δν = 0 (1,1)</text><text transform="translate(444.64 646.70) scale(1.0236 1)" font-size="11.16" font-family='"Liberation Sans", sans-serif' fill="#111" stroke="#111" style="stroke-width:0.08px">516.5 nm, Δν = 0 (0,0)</text><text transform="translate(443.37 671.90) scale(0.8606 1)" font-size="11.92" font-family='"Liberation Sans", sans-serif' fill="#111" stroke="#111" style="stroke-width:0.15px">T</text><text transform="translate(449.93 675.00) scale(1.2361 1)" font-size="8.14" font-family='"Liberation Sans", sans-serif' fill="#111" stroke="#111" style="stroke-width:0.10px">rot</text><text transform="translate(464.89 671.90) scale(1.0494 1)" font-size="11.92" font-family='"Liberation Sans", sans-serif' fill="#111" stroke="#111" style="stroke-width:0.15px">= 3911±290 K</text><g stroke="#000" fill="none" stroke-linecap="butt"><line x1="87.50" y1="196.50" x2="87.50" y2="200.15" stroke-width="2.60"/><line x1="87.50" y1="10.30" x2="87.50" y2="13.95" stroke-width="2.60"/><line x1="146.00" y1="196.50" x2="146.00" y2="200.15" stroke-width="2.60"/><line x1="146.00" y1="10.30" x2="146.00" y2="13.95" stroke-width="2.60"/><line x1="204.50" y1="196.50" x2="204.50" y2="200.15" stroke-width="2.60"/><line x1="204.50" y1="10.30" x2="204.50" y2="13.95" stroke-width="2.60"/><line x1="263.00" y1="196.50" x2="263.00" y2="200.15" stroke-width="2.60"/><line x1="263.00" y1="10.30" x2="263.00" y2="13.95" stroke-width="2.60"/><line x1="321.50" y1="196.50" x2="321.50" y2="200.15" stroke-width="2.60"/><line x1="321.50" y1="10.30" x2="321.50" y2="13.95" stroke-width="2.60"/><line x1="116.75" y1="196.50" x2="116.75" y2="199.45" stroke-width="2.00"/><line x1="116.75" y1="10.30" x2="116.75" y2="13.25" stroke-width="2.00"/><line x1="175.25" y1="196.50" x2="175.25" y2="199.45" stroke-width="2.00"/><line x1="175.25" y1="10.30" x2="175.25" y2="13.25" stroke-width="2.00"/><line x1="233.75" y1="196.50" x2="233.75" y2="199.45" stroke-width="2.00"/><line x1="233.75" y1="10.30" x2="233.75" y2="13.25" stroke-width="2.00"/><line x1="292.25" y1="196.50" x2="292.25" y2="199.45" stroke-width="2.00"/><line x1="292.25" y1="10.30" x2="292.25" y2="13.25" stroke-width="2.00"/><line x1="87.50" y1="196.50" x2="83.85" y2="196.50" stroke-width="2.60"/><line x1="321.50" y1="196.50" x2="317.85" y2="196.50" stroke-width="2.60"/><line x1="87.50" y1="134.43" x2="83.85" y2="134.43" stroke-width="2.60"/><line x1="321.50" y1="134.43" x2="317.85" y2="134.43" stroke-width="2.60"/><line x1="87.50" y1="72.37" x2="83.85" y2="72.37" stroke-width="2.60"/><line x1="321.50" y1="72.37" x2="317.85" y2="72.37" stroke-width="2.60"/><line x1="87.50" y1="10.30" x2="83.85" y2="10.30" stroke-width="2.60"/><line x1="321.50" y1="10.30" x2="317.85" y2="10.30" stroke-width="2.60"/><line x1="87.50" y1="165.47" x2="84.55" y2="165.47" stroke-width="2.00"/><line x1="321.50" y1="165.47" x2="318.55" y2="165.47" stroke-width="2.00"/><line x1="87.50" y1="103.40" x2="84.55" y2="103.40" stroke-width="2.00"/><line x1="321.50" y1="103.40" x2="318.55" y2="103.40" stroke-width="2.00"/><line x1="87.50" y1="41.33" x2="84.55" y2="41.33" stroke-width="2.00"/><line x1="321.50" y1="41.33" x2="318.55" y2="41.33" stroke-width="2.00"/><rect x="87.50" y="10.30" width="234.00" height="186.20" fill="none" stroke-width="2.70"/></g><g stroke="#000" fill="none" stroke-linecap="butt"><line x1="437.20" y1="196.70" x2="437.20" y2="200.35" stroke-width="2.60"/><line x1="437.20" y1="10.30" x2="437.20" y2="13.95" stroke-width="2.60"/><line x1="495.75" y1="196.70" x2="495.75" y2="200.35" stroke-width="2.60"/><line x1="495.75" y1="10.30" x2="495.75" y2="13.95" stroke-width="2.60"/><line x1="554.30" y1="196.70" x2="554.30" y2="200.35" stroke-width="2.60"/><line x1="554.30" y1="10.30" x2="554.30" y2="13.95" stroke-width="2.60"/><line x1="612.85" y1="196.70" x2="612.85" y2="200.35" stroke-width="2.60"/><line x1="612.85" y1="10.30" x2="612.85" y2="13.95" stroke-width="2.60"/><line x1="671.40" y1="196.70" x2="671.40" y2="200.35" stroke-width="2.60"/><line x1="671.40" y1="10.30" x2="671.40" y2="13.95" stroke-width="2.60"/><line x1="466.47" y1="196.70" x2="466.47" y2="199.65" stroke-width="2.00"/><line x1="466.47" y1="10.30" x2="466.47" y2="13.25" stroke-width="2.00"/><line x1="525.02" y1="196.70" x2="525.02" y2="199.65" stroke-width="2.00"/><line x1="525.02" y1="10.30" x2="525.02" y2="13.25" stroke-width="2.00"/><line x1="583.58" y1="196.70" x2="583.58" y2="199.65" stroke-width="2.00"/><line x1="583.58" y1="10.30" x2="583.58" y2="13.25" stroke-width="2.00"/><line x1="642.12" y1="196.70" x2="642.12" y2="199.65" stroke-width="2.00"/><line x1="642.12" y1="10.30" x2="642.12" y2="13.25" stroke-width="2.00"/><line x1="437.20" y1="196.70" x2="433.55" y2="196.70" stroke-width="2.60"/><line x1="671.40" y1="196.70" x2="667.75" y2="196.70" stroke-width="2.60"/><line x1="437.20" y1="159.42" x2="433.55" y2="159.42" stroke-width="2.60"/><line x1="671.40" y1="159.42" x2="667.75" y2="159.42" stroke-width="2.60"/><line x1="437.20" y1="122.14" x2="433.55" y2="122.14" stroke-width="2.60"/><line x1="671.40" y1="122.14" x2="667.75" y2="122.14" stroke-width="2.60"/><line x1="437.20" y1="84.86" x2="433.55" y2="84.86" stroke-width="2.60"/><line x1="671.40" y1="84.86" x2="667.75" y2="84.86" stroke-width="2.60"/><line x1="437.20" y1="47.58" x2="433.55" y2="47.58" stroke-width="2.60"/><line x1="671.40" y1="47.58" x2="667.75" y2="47.58" stroke-width="2.60"/><line x1="437.20" y1="10.30" x2="433.55" y2="10.30" stroke-width="2.60"/><line x1="671.40" y1="10.30" x2="667.75" y2="10.30" stroke-width="2.60"/><line x1="437.20" y1="178.06" x2="434.25" y2="178.06" stroke-width="2.00"/><line x1="671.40" y1="178.06" x2="668.45" y2="178.06" stroke-width="2.00"/><line x1="437.20" y1="140.78" x2="434.25" y2="140.78" stroke-width="2.00"/><line x1="671.40" y1="140.78" x2="668.45" y2="140.78" stroke-width="2.00"/><line x1="437.20" y1="103.50" x2="434.25" y2="103.50" stroke-width="2.00"/><line x1="671.40" y1="103.50" x2="668.45" y2="103.50" stroke-width="2.00"/><line x1="437.20" y1="66.22" x2="434.25" y2="66.22" stroke-width="2.00"/><line x1="671.40" y1="66.22" x2="668.45" y2="66.22" stroke-width="2.00"/><line x1="437.20" y1="28.94" x2="434.25" y2="28.94" stroke-width="2.00"/><line x1="671.40" y1="28.94" x2="668.45" y2="28.94" stroke-width="2.00"/><rect x="437.20" y="10.30" width="234.20" height="186.40" fill="none" stroke-width="2.70"/></g><g stroke="#000" fill="none" stroke-linecap="butt"><line x1="71.50" y1="461.40" x2="71.50" y2="465.05" stroke-width="2.60"/><line x1="71.50" y1="277.00" x2="71.50" y2="280.65" stroke-width="2.60"/><line x1="131.18" y1="461.40" x2="131.18" y2="465.05" stroke-width="2.60"/><line x1="131.18" y1="277.00" x2="131.18" y2="280.65" stroke-width="2.60"/><line x1="190.85" y1="461.40" x2="190.85" y2="465.05" stroke-width="2.60"/><line x1="190.85" y1="277.00" x2="190.85" y2="280.65" stroke-width="2.60"/><line x1="250.52" y1="461.40" x2="250.52" y2="465.05" stroke-width="2.60"/><line x1="250.52" y1="277.00" x2="250.52" y2="280.65" stroke-width="2.60"/><line x1="310.20" y1="461.40" x2="310.20" y2="465.05" stroke-width="2.60"/><line x1="310.20" y1="277.00" x2="310.20" y2="280.65" stroke-width="2.60"/><line x1="101.34" y1="461.40" x2="101.34" y2="464.35" stroke-width="2.00"/><line x1="101.34" y1="277.00" x2="101.34" y2="279.95" stroke-width="2.00"/><line x1="161.01" y1="461.40" x2="161.01" y2="464.35" stroke-width="2.00"/><line x1="161.01" y1="277.00" x2="161.01" y2="279.95" stroke-width="2.00"/><line x1="220.69" y1="461.40" x2="220.69" y2="464.35" stroke-width="2.00"/><line x1="220.69" y1="277.00" x2="220.69" y2="279.95" stroke-width="2.00"/><line x1="280.36" y1="461.40" x2="280.36" y2="464.35" stroke-width="2.00"/><line x1="280.36" y1="277.00" x2="280.36" y2="279.95" stroke-width="2.00"/><line x1="71.50" y1="461.40" x2="67.85" y2="461.40" stroke-width="2.60"/><line x1="310.20" y1="461.40" x2="306.55" y2="461.40" stroke-width="2.60"/><line x1="71.50" y1="415.30" x2="67.85" y2="415.30" stroke-width="2.60"/><line x1="310.20" y1="415.30" x2="306.55" y2="415.30" stroke-width="2.60"/><line x1="71.50" y1="369.20" x2="67.85" y2="369.20" stroke-width="2.60"/><line x1="310.20" y1="369.20" x2="306.55" y2="369.20" stroke-width="2.60"/><line x1="71.50" y1="323.10" x2="67.85" y2="323.10" stroke-width="2.60"/><line x1="310.20" y1="323.10" x2="306.55" y2="323.10" stroke-width="2.60"/><line x1="71.50" y1="277.00" x2="67.85" y2="277.00" stroke-width="2.60"/><line x1="310.20" y1="277.00" x2="306.55" y2="277.00" stroke-width="2.60"/><line x1="71.50" y1="438.35" x2="68.55" y2="438.35" stroke-width="2.00"/><line x1="310.20" y1="438.35" x2="307.25" y2="438.35" stroke-width="2.00"/><line x1="71.50" y1="392.25" x2="68.55" y2="392.25" stroke-width="2.00"/><line x1="310.20" y1="392.25" x2="307.25" y2="392.25" stroke-width="2.00"/><line x1="71.50" y1="346.15" x2="68.55" y2="346.15" stroke-width="2.00"/><line x1="310.20" y1="346.15" x2="307.25" y2="346.15" stroke-width="2.00"/><line x1="71.50" y1="300.05" x2="68.55" y2="300.05" stroke-width="2.00"/><line x1="310.20" y1="300.05" x2="307.25" y2="300.05" stroke-width="2.00"/><rect x="71.50" y="277.00" width="238.70" height="184.40" fill="none" stroke-width="2.70"/></g><g stroke="#000" fill="none" stroke-linecap="butt"><line x1="421.50" y1="461.10" x2="421.50" y2="464.75" stroke-width="2.60"/><line x1="421.50" y1="276.80" x2="421.50" y2="280.45" stroke-width="2.60"/><line x1="501.07" y1="461.10" x2="501.07" y2="464.75" stroke-width="2.60"/><line x1="501.07" y1="276.80" x2="501.07" y2="280.45" stroke-width="2.60"/><line x1="580.63" y1="461.10" x2="580.63" y2="464.75" stroke-width="2.60"/><line x1="580.63" y1="276.80" x2="580.63" y2="280.45" stroke-width="2.60"/><line x1="660.20" y1="461.10" x2="660.20" y2="464.75" stroke-width="2.60"/><line x1="660.20" y1="276.80" x2="660.20" y2="280.45" stroke-width="2.60"/><line x1="461.28" y1="461.10" x2="461.28" y2="464.05" stroke-width="2.00"/><line x1="461.28" y1="276.80" x2="461.28" y2="279.75" stroke-width="2.00"/><line x1="540.85" y1="461.10" x2="540.85" y2="464.05" stroke-width="2.00"/><line x1="540.85" y1="276.80" x2="540.85" y2="279.75" stroke-width="2.00"/><line x1="620.42" y1="461.10" x2="620.42" y2="464.05" stroke-width="2.00"/><line x1="620.42" y1="276.80" x2="620.42" y2="279.75" stroke-width="2.00"/><line x1="421.50" y1="461.10" x2="417.85" y2="461.10" stroke-width="2.60"/><line x1="660.20" y1="461.10" x2="656.55" y2="461.10" stroke-width="2.60"/><line x1="421.50" y1="415.03" x2="417.85" y2="415.03" stroke-width="2.60"/><line x1="660.20" y1="415.03" x2="656.55" y2="415.03" stroke-width="2.60"/><line x1="421.50" y1="368.95" x2="417.85" y2="368.95" stroke-width="2.60"/><line x1="660.20" y1="368.95" x2="656.55" y2="368.95" stroke-width="2.60"/><line x1="421.50" y1="322.88" x2="417.85" y2="322.88" stroke-width="2.60"/><line x1="660.20" y1="322.88" x2="656.55" y2="322.88" stroke-width="2.60"/><line x1="421.50" y1="276.80" x2="417.85" y2="276.80" stroke-width="2.60"/><line x1="660.20" y1="276.80" x2="656.55" y2="276.80" stroke-width="2.60"/><line x1="421.50" y1="438.06" x2="418.55" y2="438.06" stroke-width="2.00"/><line x1="660.20" y1="438.06" x2="657.25" y2="438.06" stroke-width="2.00"/><line x1="421.50" y1="391.99" x2="418.55" y2="391.99" stroke-width="2.00"/><line x1="660.20" y1="391.99" x2="657.25" y2="391.99" stroke-width="2.00"/><line x1="421.50" y1="345.91" x2="418.55" y2="345.91" stroke-width="2.00"/><line x1="660.20" y1="345.91" x2="657.25" y2="345.91" stroke-width="2.00"/><line x1="421.50" y1="299.84" x2="418.55" y2="299.84" stroke-width="2.00"/><line x1="660.20" y1="299.84" x2="657.25" y2="299.84" stroke-width="2.00"/><rect x="421.50" y="276.80" width="238.70" height="184.30" fill="none" stroke-width="2.70"/></g><g stroke="#000" fill="none" stroke-linecap="butt"><line x1="87.30" y1="731.20" x2="87.30" y2="734.85" stroke-width="2.60"/><line x1="87.30" y1="545.50" x2="87.30" y2="549.15" stroke-width="2.60"/><line x1="145.90" y1="731.20" x2="145.90" y2="734.85" stroke-width="2.60"/><line x1="145.90" y1="545.50" x2="145.90" y2="549.15" stroke-width="2.60"/><line x1="204.50" y1="731.20" x2="204.50" y2="734.85" stroke-width="2.60"/><line x1="204.50" y1="545.50" x2="204.50" y2="549.15" stroke-width="2.60"/><line x1="263.10" y1="731.20" x2="263.10" y2="734.85" stroke-width="2.60"/><line x1="263.10" y1="545.50" x2="263.10" y2="549.15" stroke-width="2.60"/><line x1="321.70" y1="731.20" x2="321.70" y2="734.85" stroke-width="2.60"/><line x1="321.70" y1="545.50" x2="321.70" y2="549.15" stroke-width="2.60"/><line x1="116.60" y1="731.20" x2="116.60" y2="734.15" stroke-width="2.00"/><line x1="116.60" y1="545.50" x2="116.60" y2="548.45" stroke-width="2.00"/><line x1="175.20" y1="731.20" x2="175.20" y2="734.15" stroke-width="2.00"/><line x1="175.20" y1="545.50" x2="175.20" y2="548.45" stroke-width="2.00"/><line x1="233.80" y1="731.20" x2="233.80" y2="734.15" stroke-width="2.00"/><line x1="233.80" y1="545.50" x2="233.80" y2="548.45" stroke-width="2.00"/><line x1="292.40" y1="731.20" x2="292.40" y2="734.15" stroke-width="2.00"/><line x1="292.40" y1="545.50" x2="292.40" y2="548.45" stroke-width="2.00"/><line x1="87.30" y1="731.20" x2="83.65" y2="731.20" stroke-width="2.60"/><line x1="321.70" y1="731.20" x2="318.05" y2="731.20" stroke-width="2.60"/><line x1="87.30" y1="684.78" x2="83.65" y2="684.78" stroke-width="2.60"/><line x1="321.70" y1="684.78" x2="318.05" y2="684.78" stroke-width="2.60"/><line x1="87.30" y1="638.35" x2="83.65" y2="638.35" stroke-width="2.60"/><line x1="321.70" y1="638.35" x2="318.05" y2="638.35" stroke-width="2.60"/><line x1="87.30" y1="591.92" x2="83.65" y2="591.92" stroke-width="2.60"/><line x1="321.70" y1="591.92" x2="318.05" y2="591.92" stroke-width="2.60"/><line x1="87.30" y1="545.50" x2="83.65" y2="545.50" stroke-width="2.60"/><line x1="321.70" y1="545.50" x2="318.05" y2="545.50" stroke-width="2.60"/><line x1="87.30" y1="707.99" x2="84.35" y2="707.99" stroke-width="2.00"/><line x1="321.70" y1="707.99" x2="318.75" y2="707.99" stroke-width="2.00"/><line x1="87.30" y1="661.56" x2="84.35" y2="661.56" stroke-width="2.00"/><line x1="321.70" y1="661.56" x2="318.75" y2="661.56" stroke-width="2.00"/><line x1="87.30" y1="615.14" x2="84.35" y2="615.14" stroke-width="2.00"/><line x1="321.70" y1="615.14" x2="318.75" y2="615.14" stroke-width="2.00"/><line x1="87.30" y1="568.71" x2="84.35" y2="568.71" stroke-width="2.00"/><line x1="321.70" y1="568.71" x2="318.75" y2="568.71" stroke-width="2.00"/><rect x="87.30" y="545.50" width="234.40" height="185.70" fill="none" stroke-width="2.70"/></g><g stroke="#000" fill="none" stroke-linecap="butt"><line x1="437.40" y1="731.20" x2="437.40" y2="734.85" stroke-width="2.60"/><line x1="437.40" y1="545.50" x2="437.40" y2="549.15" stroke-width="2.60"/><line x1="495.90" y1="731.20" x2="495.90" y2="734.85" stroke-width="2.60"/><line x1="495.90" y1="545.50" x2="495.90" y2="549.15" stroke-width="2.60"/><line x1="554.40" y1="731.20" x2="554.40" y2="734.85" stroke-width="2.60"/><line x1="554.40" y1="545.50" x2="554.40" y2="549.15" stroke-width="2.60"/><line x1="612.90" y1="731.20" x2="612.90" y2="734.85" stroke-width="2.60"/><line x1="612.90" y1="545.50" x2="612.90" y2="549.15" stroke-width="2.60"/><line x1="671.40" y1="731.20" x2="671.40" y2="734.85" stroke-width="2.60"/><line x1="671.40" y1="545.50" x2="671.40" y2="549.15" stroke-width="2.60"/><line x1="466.65" y1="731.20" x2="466.65" y2="734.15" stroke-width="2.00"/><line x1="466.65" y1="545.50" x2="466.65" y2="548.45" stroke-width="2.00"/><line x1="525.15" y1="731.20" x2="525.15" y2="734.15" stroke-width="2.00"/><line x1="525.15" y1="545.50" x2="525.15" y2="548.45" stroke-width="2.00"/><line x1="583.65" y1="731.20" x2="583.65" y2="734.15" stroke-width="2.00"/><line x1="583.65" y1="545.50" x2="583.65" y2="548.45" stroke-width="2.00"/><line x1="642.15" y1="731.20" x2="642.15" y2="734.15" stroke-width="2.00"/><line x1="642.15" y1="545.50" x2="642.15" y2="548.45" stroke-width="2.00"/><line x1="437.40" y1="731.20" x2="433.75" y2="731.20" stroke-width="2.60"/><line x1="671.40" y1="731.20" x2="667.75" y2="731.20" stroke-width="2.60"/><line x1="437.40" y1="684.78" x2="433.75" y2="684.78" stroke-width="2.60"/><line x1="671.40" y1="684.78" x2="667.75" y2="684.78" stroke-width="2.60"/><line x1="437.40" y1="638.35" x2="433.75" y2="638.35" stroke-width="2.60"/><line x1="671.40" y1="638.35" x2="667.75" y2="638.35" stroke-width="2.60"/><line x1="437.40" y1="591.92" x2="433.75" y2="591.92" stroke-width="2.60"/><line x1="671.40" y1="591.92" x2="667.75" y2="591.92" stroke-width="2.60"/><line x1="437.40" y1="545.50" x2="433.75" y2="545.50" stroke-width="2.60"/><line x1="671.40" y1="545.50" x2="667.75" y2="545.50" stroke-width="2.60"/><line x1="437.40" y1="707.99" x2="434.45" y2="707.99" stroke-width="2.00"/><line x1="671.40" y1="707.99" x2="668.45" y2="707.99" stroke-width="2.00"/><line x1="437.40" y1="661.56" x2="434.45" y2="661.56" stroke-width="2.00"/><line x1="671.40" y1="661.56" x2="668.45" y2="661.56" stroke-width="2.00"/><line x1="437.40" y1="615.14" x2="434.45" y2="615.14" stroke-width="2.00"/><line x1="671.40" y1="615.14" x2="668.45" y2="615.14" stroke-width="2.00"/><line x1="437.40" y1="568.71" x2="434.45" y2="568.71" stroke-width="2.00"/><line x1="671.40" y1="568.71" x2="668.45" y2="568.71" stroke-width="2.00"/><rect x="437.40" y="545.50" width="234.00" height="185.70" fill="none" stroke-width="2.70"/></g><path d="M87.50 730.80 L120.00 730.60 L143.50 729.60 L171.20 728.30 L185.30 726.80 L195.00 724.40 L207.40 719.40 L219.80 713.20 L225.00 709.90 L231.40 705.40 L237.80 699.70 L244.30 694.50 L250.70 688.10 L255.80 681.70 L258.40 676.60 L260.30 672.10 L262.20 671.40 L265.00 672.70 L269.40 664.80 L274.40 656.10 L277.20 646.00 L278.60 629.10 L283.40 660.90 L294.40 638.90 L296.30 625.50 L297.30 593.80 L299.00 545.30 L300.50 545.30 L304.50 730.80 L321.00 730.80" fill="none" stroke="#0000ff" stroke-width="2.35" stroke-linejoin="round"/><path d="M437.50 731.00 L470.00 730.60 L490.00 729.50 L505.00 728.20 L515.00 726.80 L527.40 724.40 L537.00 722.20 L546.00 719.40 L555.00 716.00 L564.60 711.30 L571.00 707.60 L577.00 703.30 L583.00 698.60 L589.40 693.40 L595.00 688.00 L600.00 684.20 L603.00 680.00 L609.90 666.60 L612.90 668.40 L616.90 664.40 L623.80 653.40 L626.80 644.50 L629.80 623.60 L633.80 658.40 L641.80 646.50 L644.70 636.50 L646.30 620.60 L647.70 584.80 L649.30 545.30 L650.80 545.30 L655.60 731.00 L671.00 731.00" fill="none" stroke="#ff0000" stroke-width="2.4" stroke-linejoin="round"/><text transform="translate(70.57 201.45) scale(1.0900 1)" font-size="18.51" font-family='"Liberation Sans", sans-serif' fill="#000" stroke="#000">0</text><text transform="translate(36.91 139.38) scale(1.0900 1)" font-size="18.51" font-family='"Liberation Sans", sans-serif' fill="#000" stroke="#000">1000</text><text transform="translate(36.91 77.32) scale(1.0900 1)" font-size="18.51" font-family='"Liberation Sans", sans-serif' fill="#000" stroke="#000">2000</text><text transform="translate(36.91 15.25) scale(1.0900 1)" font-size="18.51" font-family='"Liberation Sans", sans-serif' fill="#000" stroke="#000">3000</text><text transform="translate(81.89 217.50) scale(1.0900 1)" font-size="18.51" font-family='"Liberation Sans", sans-serif' fill="#000" stroke="#000">0</text><text transform="translate(140.41 217.50) scale(1.0900 1)" font-size="18.51" font-family='"Liberation Sans", sans-serif' fill="#000" stroke="#000">5</text><text transform="translate(192.91 217.50) scale(1.0900 1)" font-size="18.51" font-family='"Liberation Sans", sans-serif' fill="#000" stroke="#000">10</text><text transform="translate(251.44 217.50) scale(1.0900 1)" font-size="18.51" font-family='"Liberation Sans", sans-serif' fill="#000" stroke="#000">15</text><text transform="translate(310.17 217.50) scale(1.0900 1)" font-size="18.51" font-family='"Liberation Sans", sans-serif' fill="#000" stroke="#000">20</text><text transform="translate(420.27 201.65) scale(1.0900 1)" font-size="18.51" font-family='"Liberation Sans", sans-serif' fill="#000" stroke="#000">0</text><text transform="translate(386.61 164.37) scale(1.0900 1)" font-size="18.51" font-family='"Liberation Sans", sans-serif' fill="#000" stroke="#000">1000</text><text transform="translate(386.61 127.09) scale(1.0900 1)" font-size="18.51" font-family='"Liberation Sans", sans-serif' fill="#000" stroke="#000">2000</text><text transform="translate(386.61 89.81) scale(1.0900 1)" font-size="18.51" font-family='"Liberation Sans", sans-serif' fill="#000" stroke="#000">3000</text><text transform="translate(386.61 52.53) scale(1.0900 1)" font-size="18.51" font-family='"Liberation Sans", sans-serif' fill="#000" stroke="#000">4000</text><text transform="translate(386.61 15.25) scale(1.0900 1)" font-size="18.51" font-family='"Liberation Sans", sans-serif' fill="#000" stroke="#000">5000</text><text transform="translate(431.59 217.70) scale(1.0900 1)" font-size="18.51" font-family='"Liberation Sans", sans-serif' fill="#000" stroke="#000">0</text><text transform="translate(490.16 217.70) scale(1.0900 1)" font-size="18.51" font-family='"Liberation Sans", sans-serif' fill="#000" stroke="#000">5</text><text transform="translate(542.71 217.70) scale(1.0900 1)" font-size="18.51" font-family='"Liberation Sans", sans-serif' fill="#000" stroke="#000">10</text><text transform="translate(601.29 217.70) scale(1.0900 1)" font-size="18.51" font-family='"Liberation Sans", sans-serif' fill="#000" stroke="#000">15</text><text transform="translate(660.07 217.70) scale(1.0900 1)" font-size="18.51" font-family='"Liberation Sans", sans-serif' fill="#000" stroke="#000">20</text><text transform="translate(54.57 466.35) scale(1.0900 1)" font-size="18.51" font-family='"Liberation Sans", sans-serif' fill="#000" stroke="#000">0</text><text transform="translate(32.13 420.25) scale(1.0900 1)" font-size="18.51" font-family='"Liberation Sans", sans-serif' fill="#000" stroke="#000">100</text><text transform="translate(32.13 374.15) scale(1.0900 1)" font-size="18.51" font-family='"Liberation Sans", sans-serif' fill="#000" stroke="#000">200</text><text transform="translate(32.13 328.05) scale(1.0900 1)" font-size="18.51" font-family='"Liberation Sans", sans-serif' fill="#000" stroke="#000">300</text><text transform="translate(32.13 281.95) scale(1.0900 1)" font-size="18.51" font-family='"Liberation Sans", sans-serif' fill="#000" stroke="#000">400</text><text transform="translate(65.89 482.40) scale(1.0900 1)" font-size="18.51" font-family='"Liberation Sans", sans-serif' fill="#000" stroke="#000">0</text><text transform="translate(125.58 482.40) scale(1.0900 1)" font-size="18.51" font-family='"Liberation Sans", sans-serif' fill="#000" stroke="#000">5</text><text transform="translate(179.26 482.40) scale(1.0900 1)" font-size="18.51" font-family='"Liberation Sans", sans-serif' fill="#000" stroke="#000">10</text><text transform="translate(238.96 482.40) scale(1.0900 1)" font-size="18.51" font-family='"Liberation Sans", sans-serif' fill="#000" stroke="#000">15</text><text transform="translate(298.87 482.40) scale(1.0900 1)" font-size="18.51" font-family='"Liberation Sans", sans-serif' fill="#000" stroke="#000">20</text><text transform="translate(404.57 466.05) scale(1.0900 1)" font-size="18.51" font-family='"Liberation Sans", sans-serif' fill="#000" stroke="#000">0</text><text transform="translate(382.13 419.98) scale(1.0900 1)" font-size="18.51" font-family='"Liberation Sans", sans-serif' fill="#000" stroke="#000">100</text><text transform="translate(382.13 373.90) scale(1.0900 1)" font-size="18.51" font-family='"Liberation Sans", sans-serif' fill="#000" stroke="#000">200</text><text transform="translate(382.13 327.82) scale(1.0900 1)" font-size="18.51" font-family='"Liberation Sans", sans-serif' fill="#000" stroke="#000">300</text><text transform="translate(382.13 281.75) scale(1.0900 1)" font-size="18.51" font-family='"Liberation Sans", sans-serif' fill="#000" stroke="#000">400</text><text transform="translate(415.89 482.10) scale(1.0900 1)" font-size="18.51" font-family='"Liberation Sans", sans-serif' fill="#000" stroke="#000">0</text><text transform="translate(495.48 482.10) scale(1.0900 1)" font-size="18.51" font-family='"Liberation Sans", sans-serif' fill="#000" stroke="#000">5</text><text transform="translate(569.04 482.10) scale(1.0900 1)" font-size="18.51" font-family='"Liberation Sans", sans-serif' fill="#000" stroke="#000">10</text><text transform="translate(648.64 482.10) scale(1.0900 1)" font-size="18.51" font-family='"Liberation Sans", sans-serif' fill="#000" stroke="#000">15</text><text transform="translate(46.30 735.80) scale(1.1400 1)" font-size="15.82" font-family='"Liberation Sans", sans-serif' fill="#000" stroke="#000">0.00</text><text transform="translate(46.35 689.38) scale(1.1400 1)" font-size="15.82" font-family='"Liberation Sans", sans-serif' fill="#000" stroke="#000">0.25</text><text transform="translate(46.30 642.95) scale(1.1400 1)" font-size="15.82" font-family='"Liberation Sans", sans-serif' fill="#000" stroke="#000">0.50</text><text transform="translate(46.35 596.52) scale(1.1400 1)" font-size="15.82" font-family='"Liberation Sans", sans-serif' fill="#000" stroke="#000">0.75</text><text transform="translate(46.30 550.10) scale(1.1400 1)" font-size="15.82" font-family='"Liberation Sans", sans-serif' fill="#000" stroke="#000">1.00</text><text transform="translate(74.62 749.20) scale(1.0650 1)" font-size="14.41" font-family='"Liberation Sans", sans-serif' fill="#000" stroke="#000">480</text><text transform="translate(133.22 749.20) scale(1.0650 1)" font-size="14.41" font-family='"Liberation Sans", sans-serif' fill="#000" stroke="#000">490</text><text transform="translate(191.69 749.20) scale(1.0650 1)" font-size="14.41" font-family='"Liberation Sans", sans-serif' fill="#000" stroke="#000">500</text><text transform="translate(250.29 749.20) scale(1.0650 1)" font-size="14.41" font-family='"Liberation Sans", sans-serif' fill="#000" stroke="#000">510</text><text transform="translate(308.89 749.20) scale(1.0650 1)" font-size="14.41" font-family='"Liberation Sans", sans-serif' fill="#000" stroke="#000">520</text><text transform="translate(396.40 735.80) scale(1.1400 1)" font-size="15.82" font-family='"Liberation Sans", sans-serif' fill="#000" stroke="#000">0.00</text><text transform="translate(396.45 689.38) scale(1.1400 1)" font-size="15.82" font-family='"Liberation Sans", sans-serif' fill="#000" stroke="#000">0.25</text><text transform="translate(396.40 642.95) scale(1.1400 1)" font-size="15.82" font-family='"Liberation Sans", sans-serif' fill="#000" stroke="#000">0.50</text><text transform="translate(396.45 596.52) scale(1.1400 1)" font-size="15.82" font-family='"Liberation Sans", sans-serif' fill="#000" stroke="#000">0.75</text><text transform="translate(396.40 550.10) scale(1.1400 1)" font-size="15.82" font-family='"Liberation Sans", sans-serif' fill="#000" stroke="#000">1.00</text><text transform="translate(424.72 749.20) scale(1.0650 1)" font-size="14.41" font-family='"Liberation Sans", sans-serif' fill="#000" stroke="#000">480</text><text transform="translate(483.22 749.20) scale(1.0650 1)" font-size="14.41" font-family='"Liberation Sans", sans-serif' fill="#000" stroke="#000">490</text><text transform="translate(541.59 749.20) scale(1.0650 1)" font-size="14.41" font-family='"Liberation Sans", sans-serif' fill="#000" stroke="#000">500</text><text transform="translate(600.09 749.20) scale(1.0650 1)" font-size="14.41" font-family='"Liberation Sans", sans-serif' fill="#000" stroke="#000">510</text><text transform="translate(658.59 749.20) scale(1.0650 1)" font-size="14.41" font-family='"Liberation Sans", sans-serif' fill="#000" stroke="#000">520</text><text transform="translate(101.72 247.80) scale(1.0680 1)" font-size="19.19" font-family='"Liberation Sans", sans-serif' fill="#000" stroke="#000">Discharge length (mm)</text><text transform="translate(450.62 248.10) scale(1.0675 1)" font-size="19.19" font-family='"Liberation Sans", sans-serif' fill="#000" stroke="#000">Discharge length (mm)</text><text transform="translate(18.80 142.59) rotate(-90) scale(0.9717 1)" font-size="20.64" font-family='"Liberation Sans", sans-serif' fill="#000" stroke="#000">Voltage (V)</text><text transform="translate(368.50 142.59) rotate(-90) scale(0.9737 1)" font-size="20.64" font-family='"Liberation Sans", sans-serif' fill="#000" stroke="#000">Voltage (V)</text><text transform="translate(133.24 508.80) scale(1.0210 1)" font-size="19.77" font-family='"Liberation Sans", sans-serif' fill="#000" stroke="#000">Length (mm)</text><text transform="translate(483.44 508.60) scale(1.0219 1)" font-size="19.77" font-family='"Liberation Sans", sans-serif' fill="#000" stroke="#000">Length (mm)</text><text transform="translate(19.10 405.16) rotate(-90) scale(0.9240 1)" font-size="20.64" font-family='"Liberation Sans", sans-serif' fill="#000" stroke="#000">E/N (Td)</text><text transform="translate(368.70 404.96) rotate(-90) scale(0.9213 1)" font-size="20.64" font-family='"Liberation Sans", sans-serif' fill="#000" stroke="#000">E/N (Td)</text><text transform="translate(146.03 774.30) scale(1.0406 1)" font-size="14.68" font-family='"Liberation Sans", sans-serif' fill="#000" stroke="#000">Wavelength (nm)</text><text transform="translate(496.73 774.30) scale(1.0406 1)" font-size="14.68" font-family='"Liberation Sans", sans-serif' fill="#000" stroke="#000">Wavelength (nm)</text><text transform="translate(29.30 704.40) rotate(-90) scale(1.0771 1)" font-size="17.01" font-family='"Liberation Sans", sans-serif' fill="#000" stroke="#000">Normalised Intensity</text><text transform="translate(380.00 704.40) rotate(-90) scale(1.0771 1)" font-size="17.01" font-family='"Liberation Sans", sans-serif' fill="#000" stroke="#000">Normalised Intensity</text><text transform="translate(96.00 40.90) scale(0.9388 1)" font-size="29.20" font-family='"Liberation Sans", sans-serif' fill="#000" stroke="#000">(a)</text><text transform="translate(445.22 40.90) scale(0.9825 1)" font-size="29.20" font-family='"Liberation Sans", sans-serif' fill="#000" stroke="#000">(b)</text><text transform="translate(96.01 306.60) scale(0.9267 1)" font-size="29.41" font-family='"Liberation Sans", sans-serif' fill="#000" stroke="#000">(c)</text><text transform="translate(427.73 306.60) scale(0.9722 1)" font-size="29.41" font-family='"Liberation Sans", sans-serif' fill="#000" stroke="#000">(d)</text><text transform="translate(-0.21 525.20) scale(0.9382 1)" font-size="29.41" font-family='"Liberation Sans", sans-serif' fill="#000" stroke="#000">(e)</text><text transform="translate(341.05 525.20) scale(1.0161 1)" font-size="29.41" font-family='"Liberation Sans", sans-serif' fill="#000" stroke="#000">(f)</text><text transform="translate(205.57 114.10) scale(1.0076 1)" font-size="17.30" font-family='"Liberation Sans", sans-serif' fill="#2222ff" stroke="#2222ff">E=106 Vmm</text><text transform="translate(301.45 106.20) scale(1.0458 1)" font-size="11.77" font-family='"Liberation Sans", sans-serif' fill="#2222ff" stroke="#2222ff">-1</text><text transform="translate(205.98 142.70) scale(0.8497 1)" font-size="17.44" font-family='"Liberation Sans", sans-serif' fill="#2222ff" stroke="#2222ff">R</text><text transform="translate(216.48 134.70) scale(1.0236 1)" font-size="12.01" font-family='"Liberation Sans", sans-serif' fill="#2222ff" stroke="#2222ff">2</text><text transform="translate(227.66 142.70) scale(1.0509 1)" font-size="16.39" font-family='"Liberation Sans", sans-serif' fill="#2222ff" stroke="#2222ff">= 0.95</text><text transform="translate(206.17 168.30) scale(0.9875 1)" font-size="20.93" font-family='"Liberation Sans", sans-serif' fill="#2222ff" stroke="#2222ff">5 SLPM</text><text transform="translate(554.17 156.90) scale(1.0086 1)" font-size="17.30" font-family='"Liberation Sans", sans-serif' fill="#ff1a1a" stroke="#ff1a1a">E=156 Vmm</text><text transform="translate(650.16 149.00) scale(1.0352 1)" font-size="11.77" font-family='"Liberation Sans", sans-serif' fill="#ff1a1a" stroke="#ff1a1a">-1</text><text transform="translate(554.38 184.90) scale(0.8497 1)" font-size="17.44" font-family='"Liberation Sans", sans-serif' fill="#ff1a1a" stroke="#ff1a1a">R</text><text transform="translate(564.88 176.90) scale(1.0236 1)" font-size="12.01" font-family='"Liberation Sans", sans-serif' fill="#ff1a1a" stroke="#ff1a1a">2</text><text transform="translate(576.37 184.90) scale(1.0430 1)" font-size="16.39" font-family='"Liberation Sans", sans-serif' fill="#ff1a1a" stroke="#ff1a1a">= 0.7</text><text transform="translate(444.96 191.00) scale(0.9469 1)" font-size="22.09" font-family='"Liberation Sans", sans-serif' fill="#ff1a1a" stroke="#ff1a1a">50 SLPM</text><text transform="translate(189.46 304.10) scale(1.0656 1)" font-size="17.15" font-family='"Liberation Sans", sans-serif' fill="#2222ff" stroke="#2222ff">Asymptotic fit</text><text transform="translate(209.18 331.20) scale(0.8497 1)" font-size="17.44" font-family='"Liberation Sans", sans-serif' fill="#2222ff" stroke="#2222ff">R</text><text transform="translate(219.68 323.20) scale(1.0236 1)" font-size="12.01" font-family='"Liberation Sans", sans-serif' fill="#2222ff" stroke="#2222ff">2</text><text transform="translate(230.06 331.20) scale(1.0517 1)" font-size="16.39" font-family='"Liberation Sans", sans-serif' fill="#2222ff" stroke="#2222ff">= 0.93</text><text transform="translate(209.57 356.90) scale(0.9889 1)" font-size="20.93" font-family='"Liberation Sans", sans-serif' fill="#2222ff" stroke="#2222ff">5 SLPM</text><text transform="translate(530.26 300.10) scale(1.0857 1)" font-size="16.57" font-family='"Liberation Sans", sans-serif' fill="#ff1a1a" stroke="#ff1a1a">Asymptotic fit</text><text transform="translate(529.08 328.20) scale(0.8497 1)" font-size="17.44" font-family='"Liberation Sans", sans-serif' fill="#ff1a1a" stroke="#ff1a1a">R</text><text transform="translate(539.58 320.20) scale(1.0236 1)" font-size="12.01" font-family='"Liberation Sans", sans-serif' fill="#ff1a1a" stroke="#ff1a1a">2</text><text transform="translate(550.44 328.20) scale(1.0797 1)" font-size="16.39" font-family='"Liberation Sans", sans-serif' fill="#ff1a1a" stroke="#ff1a1a">=0.8</text><text transform="translate(427.56 452.10) scale(0.9537 1)" font-size="22.09" font-family='"Liberation Sans", sans-serif' fill="#ff1a1a" stroke="#ff1a1a">50 SLPM</text></svg></body></html>
